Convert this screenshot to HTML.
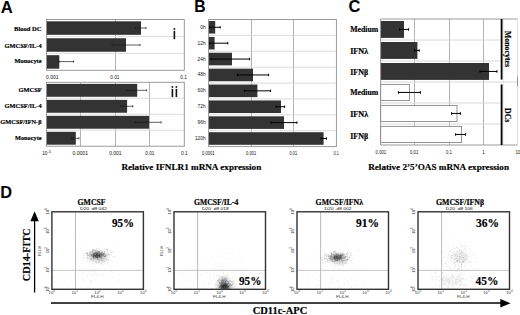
<!DOCTYPE html>
<html><head><meta charset="utf-8"><style>
html,body{margin:0;padding:0;background:#fff;}
body{width:520px;height:315px;overflow:hidden;font-family:"Liberation Sans",sans-serif;}
svg{display:block;}
</style></head><body>
<svg width="520" height="315" viewBox="0 0 520 315">
<rect width="520" height="315" fill="#fff"/>
<text x="0.7" y="12.5" font-family="'Liberation Sans', sans-serif" font-size="16.2" font-weight="bold" text-anchor="start" fill="#000" textLength="12" lengthAdjust="spacingAndGlyphs" >A</text>
<text x="194.3" y="12.4" font-family="'Liberation Sans', sans-serif" font-size="16.2" font-weight="bold" text-anchor="start" fill="#000" textLength="11.4" lengthAdjust="spacingAndGlyphs" >B</text>
<text x="348.6" y="12.4" font-family="'Liberation Sans', sans-serif" font-size="16.2" font-weight="bold" text-anchor="start" fill="#000" textLength="11.9" lengthAdjust="spacingAndGlyphs" >C</text>
<text x="0.2" y="198.2" font-family="'Liberation Sans', sans-serif" font-size="16.8" font-weight="bold" text-anchor="start" fill="#000" textLength="11.8" lengthAdjust="spacingAndGlyphs" >D</text>
<line x1="115.50" y1="19.50" x2="115.50" y2="70.30" stroke="#a4a4a4" stroke-width="0.85"/>
<line x1="46.50" y1="36.43" x2="184.30" y2="36.43" stroke="#d8d8d8" stroke-width="0.9"/>
<line x1="46.50" y1="53.37" x2="184.30" y2="53.37" stroke="#d8d8d8" stroke-width="0.9"/>
<rect x="46.50" y="21.30" width="94.50" height="13.53" fill="#333"/>
<rect x="46.50" y="38.23" width="79.50" height="13.53" fill="#333"/>
<rect x="46.50" y="55.17" width="12.80" height="13.53" fill="#333"/>
<line x1="135.00" y1="28.00" x2="146.00" y2="28.00" stroke="#1a1a1a" stroke-width="0.7"/>
<line x1="146.00" y1="26.90" x2="146.00" y2="29.10" stroke="#1a1a1a" stroke-width="0.7"/>
<line x1="135.00" y1="26.90" x2="135.00" y2="29.10" stroke="#1a1a1a" stroke-width="0.7"/>
<line x1="112.00" y1="45.00" x2="140.00" y2="45.00" stroke="#1a1a1a" stroke-width="0.7"/>
<line x1="140.00" y1="43.90" x2="140.00" y2="46.10" stroke="#1a1a1a" stroke-width="0.7"/>
<line x1="112.00" y1="43.90" x2="112.00" y2="46.10" stroke="#1a1a1a" stroke-width="0.7"/>
<line x1="59.00" y1="61.60" x2="73.50" y2="61.60" stroke="#1a1a1a" stroke-width="0.7"/>
<line x1="73.50" y1="60.50" x2="73.50" y2="62.70" stroke="#1a1a1a" stroke-width="0.7"/>
<line x1="59.00" y1="60.50" x2="59.00" y2="62.70" stroke="#1a1a1a" stroke-width="0.7"/>
<rect x="46.5" y="19.5" width="137.8" height="50.8" fill="none" stroke="#909090" stroke-width="0.9"/>
<text x="14" y="31" font-family="'Liberation Serif', serif" font-size="6.7" font-weight="bold" text-anchor="start" fill="#000" textLength="27.6" lengthAdjust="spacingAndGlyphs" stroke="#000" stroke-width="0.18" >Blood DC</text>
<text x="4.5" y="47.6" font-family="'Liberation Serif', serif" font-size="6.7" font-weight="bold" text-anchor="start" fill="#000" textLength="37.1" lengthAdjust="spacingAndGlyphs" stroke="#000" stroke-width="0.18" >GMCSF/IL-4</text>
<text x="14.5" y="62.6" font-family="'Liberation Serif', serif" font-size="6.7" font-weight="bold" text-anchor="start" fill="#000" textLength="27.1" lengthAdjust="spacingAndGlyphs" stroke="#000" stroke-width="0.18" >Monocyte</text>
<text x="46" y="79" font-family="'Liberation Sans', sans-serif" font-size="5.2" font-weight="normal" text-anchor="start" fill="#111" textLength="12.4" lengthAdjust="spacingAndGlyphs" >0.001</text>
<text x="110.2" y="79" font-family="'Liberation Sans', sans-serif" font-size="5.2" font-weight="normal" text-anchor="start" fill="#111" textLength="9.2" lengthAdjust="spacingAndGlyphs" >0.01</text>
<text x="180.3" y="79" font-family="'Liberation Sans', sans-serif" font-size="5.2" font-weight="normal" text-anchor="start" fill="#111" textLength="6.6" lengthAdjust="spacingAndGlyphs" >0.1</text>
<rect x="173.60" y="28.10" width="1.60" height="1.70" fill="#111"/>
<rect x="173.60" y="30.90" width="1.60" height="8.30" fill="#111"/>
<rect x="171.60" y="86.10" width="1.60" height="1.70" fill="#111"/>
<rect x="171.60" y="88.90" width="1.60" height="8.20" fill="#111"/>
<rect x="175.60" y="86.10" width="1.60" height="1.70" fill="#111"/>
<rect x="175.60" y="88.90" width="1.60" height="8.20" fill="#111"/>
<line x1="80.50" y1="82.30" x2="80.50" y2="146.20" stroke="#a4a4a4" stroke-width="0.85"/>
<line x1="115.50" y1="82.30" x2="115.50" y2="146.20" stroke="#a4a4a4" stroke-width="0.85"/>
<line x1="149.50" y1="82.30" x2="149.50" y2="146.20" stroke="#a4a4a4" stroke-width="0.85"/>
<line x1="46.50" y1="98.27" x2="184.30" y2="98.27" stroke="#d8d8d8" stroke-width="0.9"/>
<line x1="46.50" y1="114.25" x2="184.30" y2="114.25" stroke="#d8d8d8" stroke-width="0.9"/>
<line x1="46.50" y1="130.22" x2="184.30" y2="130.22" stroke="#d8d8d8" stroke-width="0.9"/>
<rect x="46.50" y="83.90" width="90.70" height="12.87" fill="#333"/>
<rect x="46.50" y="99.87" width="80.60" height="12.87" fill="#333"/>
<rect x="46.50" y="115.85" width="102.50" height="12.87" fill="#333"/>
<rect x="46.50" y="131.82" width="29.30" height="12.87" fill="#333"/>
<line x1="126.50" y1="90.30" x2="146.70" y2="90.30" stroke="#1a1a1a" stroke-width="0.7"/>
<line x1="146.70" y1="89.20" x2="146.70" y2="91.40" stroke="#1a1a1a" stroke-width="0.7"/>
<line x1="126.50" y1="89.20" x2="126.50" y2="91.40" stroke="#1a1a1a" stroke-width="0.7"/>
<line x1="120.80" y1="106.30" x2="132.90" y2="106.30" stroke="#1a1a1a" stroke-width="0.7"/>
<line x1="132.90" y1="105.20" x2="132.90" y2="107.40" stroke="#1a1a1a" stroke-width="0.7"/>
<line x1="120.80" y1="105.20" x2="120.80" y2="107.40" stroke="#1a1a1a" stroke-width="0.7"/>
<line x1="135.20" y1="122.30" x2="161.10" y2="122.30" stroke="#1a1a1a" stroke-width="0.7"/>
<line x1="161.10" y1="121.20" x2="161.10" y2="123.40" stroke="#1a1a1a" stroke-width="0.7"/>
<line x1="135.20" y1="121.20" x2="135.20" y2="123.40" stroke="#1a1a1a" stroke-width="0.7"/>
<line x1="71.70" y1="138.30" x2="79.00" y2="138.30" stroke="#1a1a1a" stroke-width="0.7"/>
<line x1="79.00" y1="137.20" x2="79.00" y2="139.40" stroke="#1a1a1a" stroke-width="0.7"/>
<line x1="71.70" y1="137.20" x2="71.70" y2="139.40" stroke="#1a1a1a" stroke-width="0.7"/>
<rect x="46.5" y="82.3" width="137.8" height="63.89999999999999" fill="none" stroke="#909090" stroke-width="0.9"/>
<text x="18.5" y="92.2" font-family="'Liberation Serif', serif" font-size="6.7" font-weight="bold" text-anchor="start" fill="#000" textLength="23.1" lengthAdjust="spacingAndGlyphs" stroke="#000" stroke-width="0.18" >GMCSF</text>
<text x="4.5" y="108.2" font-family="'Liberation Serif', serif" font-size="6.7" font-weight="bold" text-anchor="start" fill="#000" textLength="37.1" lengthAdjust="spacingAndGlyphs" stroke="#000" stroke-width="0.18" >GMCSF/IL-4</text>
<text x="0.3" y="124.4" font-family="'Liberation Serif', serif" font-size="6.7" font-weight="bold" text-anchor="start" fill="#000" textLength="41.3" lengthAdjust="spacingAndGlyphs" stroke="#000" stroke-width="0.18" >GMCSF/IFN-β</text>
<text x="15" y="140.2" font-family="'Liberation Serif', serif" font-size="6.7" font-weight="bold" text-anchor="start" fill="#000" textLength="26.6" lengthAdjust="spacingAndGlyphs" stroke="#000" stroke-width="0.18" >Monocyte</text>
<text x="42.2" y="155" font-family="'Liberation Sans', sans-serif" font-size="5.0" font-weight="normal" text-anchor="start" fill="#111" textLength="5.2" lengthAdjust="spacingAndGlyphs" >10</text>
<text x="47.4" y="152.6" font-family="'Liberation Sans', sans-serif" font-size="3.4" font-weight="normal" text-anchor="start" fill="#111" textLength="3.6" lengthAdjust="spacingAndGlyphs" >-5</text>
<text x="72.5" y="155" font-family="'Liberation Sans', sans-serif" font-size="5.2" font-weight="normal" text-anchor="start" fill="#111" textLength="15.5" lengthAdjust="spacingAndGlyphs" >0.0001</text>
<text x="109.2" y="155" font-family="'Liberation Sans', sans-serif" font-size="5.2" font-weight="normal" text-anchor="start" fill="#111" textLength="12.4" lengthAdjust="spacingAndGlyphs" >0.001</text>
<text x="145.3" y="155" font-family="'Liberation Sans', sans-serif" font-size="5.2" font-weight="normal" text-anchor="start" fill="#111" textLength="9.2" lengthAdjust="spacingAndGlyphs" >0.01</text>
<text x="181" y="155" font-family="'Liberation Sans', sans-serif" font-size="5.2" font-weight="normal" text-anchor="start" fill="#111" textLength="6.6" lengthAdjust="spacingAndGlyphs" >0.1</text>
<text x="121.4" y="169.9" font-family="'Liberation Serif', serif" font-size="9.2" font-weight="bold" text-anchor="start" fill="#000" textLength="139.9" lengthAdjust="spacingAndGlyphs" stroke="#000" stroke-width="0.18" >Relative IFNLR1 mRNA expression</text>
<line x1="251.50" y1="19.50" x2="251.50" y2="146.60" stroke="#a4a4a4" stroke-width="0.85"/>
<line x1="293.50" y1="19.50" x2="293.50" y2="146.60" stroke="#a4a4a4" stroke-width="0.85"/>
<line x1="208.60" y1="35.39" x2="336.40" y2="35.39" stroke="#d8d8d8" stroke-width="0.9"/>
<line x1="208.60" y1="51.27" x2="336.40" y2="51.27" stroke="#d8d8d8" stroke-width="0.9"/>
<line x1="208.60" y1="67.16" x2="336.40" y2="67.16" stroke="#d8d8d8" stroke-width="0.9"/>
<line x1="208.60" y1="83.05" x2="336.40" y2="83.05" stroke="#d8d8d8" stroke-width="0.9"/>
<line x1="208.60" y1="98.94" x2="336.40" y2="98.94" stroke="#d8d8d8" stroke-width="0.9"/>
<line x1="208.60" y1="114.82" x2="336.40" y2="114.82" stroke="#d8d8d8" stroke-width="0.9"/>
<line x1="208.60" y1="130.71" x2="336.40" y2="130.71" stroke="#d8d8d8" stroke-width="0.9"/>
<rect x="208.60" y="21.00" width="6.60" height="12.59" fill="#333"/>
<rect x="208.60" y="36.89" width="6.00" height="12.59" fill="#333"/>
<rect x="208.60" y="52.77" width="23.40" height="12.59" fill="#333"/>
<rect x="208.60" y="68.66" width="44.40" height="12.59" fill="#333"/>
<rect x="208.60" y="84.55" width="48.80" height="12.59" fill="#333"/>
<rect x="208.60" y="100.44" width="72.40" height="12.59" fill="#333"/>
<rect x="208.60" y="116.32" width="75.40" height="12.59" fill="#333"/>
<rect x="208.60" y="132.21" width="115.00" height="12.59" fill="#333"/>
<line x1="209.50" y1="27.29" x2="220.20" y2="27.29" stroke="#000" stroke-width="1.0"/>
<line x1="220.20" y1="26.09" x2="220.20" y2="28.49" stroke="#000" stroke-width="1.0"/>
<line x1="209.50" y1="26.09" x2="209.50" y2="28.49" stroke="#000" stroke-width="1.0"/>
<line x1="209.50" y1="43.18" x2="227.80" y2="43.18" stroke="#000" stroke-width="1.0"/>
<line x1="227.80" y1="41.98" x2="227.80" y2="44.38" stroke="#000" stroke-width="1.0"/>
<line x1="209.50" y1="41.98" x2="209.50" y2="44.38" stroke="#000" stroke-width="1.0"/>
<line x1="211.00" y1="59.07" x2="249.60" y2="59.07" stroke="#000" stroke-width="1.0"/>
<line x1="249.60" y1="57.87" x2="249.60" y2="60.27" stroke="#000" stroke-width="1.0"/>
<line x1="211.00" y1="57.87" x2="211.00" y2="60.27" stroke="#000" stroke-width="1.0"/>
<line x1="237.40" y1="74.96" x2="268.60" y2="74.96" stroke="#000" stroke-width="1.0"/>
<line x1="268.60" y1="73.76" x2="268.60" y2="76.16" stroke="#000" stroke-width="1.0"/>
<line x1="237.40" y1="73.76" x2="237.40" y2="76.16" stroke="#000" stroke-width="1.0"/>
<line x1="244.60" y1="90.84" x2="270.60" y2="90.84" stroke="#000" stroke-width="1.0"/>
<line x1="270.60" y1="89.64" x2="270.60" y2="92.04" stroke="#000" stroke-width="1.0"/>
<line x1="244.60" y1="89.64" x2="244.60" y2="92.04" stroke="#000" stroke-width="1.0"/>
<line x1="276.00" y1="106.73" x2="284.60" y2="106.73" stroke="#000" stroke-width="1.0"/>
<line x1="284.60" y1="105.53" x2="284.60" y2="107.93" stroke="#000" stroke-width="1.0"/>
<line x1="276.00" y1="105.53" x2="276.00" y2="107.93" stroke="#000" stroke-width="1.0"/>
<line x1="271.00" y1="122.62" x2="297.00" y2="122.62" stroke="#000" stroke-width="1.0"/>
<line x1="297.00" y1="121.42" x2="297.00" y2="123.82" stroke="#000" stroke-width="1.0"/>
<line x1="271.00" y1="121.42" x2="271.00" y2="123.82" stroke="#000" stroke-width="1.0"/>
<line x1="321.00" y1="138.51" x2="326.40" y2="138.51" stroke="#000" stroke-width="1.0"/>
<line x1="326.40" y1="137.31" x2="326.40" y2="139.71" stroke="#000" stroke-width="1.0"/>
<line x1="321.00" y1="137.31" x2="321.00" y2="139.71" stroke="#000" stroke-width="1.0"/>
<rect x="208.6" y="19.5" width="127.79999999999998" height="127.1" fill="none" stroke="#909090" stroke-width="0.9"/>
<text x="205.6" y="28.8" font-family="'Liberation Sans', sans-serif" font-size="4.8" font-weight="normal" text-anchor="end" fill="#111" >0h</text>
<text x="205.6" y="44.69" font-family="'Liberation Sans', sans-serif" font-size="4.8" font-weight="normal" text-anchor="end" fill="#111" >12h</text>
<text x="205.6" y="60.58" font-family="'Liberation Sans', sans-serif" font-size="4.8" font-weight="normal" text-anchor="end" fill="#111" >24h</text>
<text x="205.6" y="76.46" font-family="'Liberation Sans', sans-serif" font-size="4.8" font-weight="normal" text-anchor="end" fill="#111" >48h</text>
<text x="205.6" y="92.35" font-family="'Liberation Sans', sans-serif" font-size="4.8" font-weight="normal" text-anchor="end" fill="#111" >60h</text>
<text x="205.6" y="108.24" font-family="'Liberation Sans', sans-serif" font-size="4.8" font-weight="normal" text-anchor="end" fill="#111" >72h</text>
<text x="205.6" y="124.12" font-family="'Liberation Sans', sans-serif" font-size="4.8" font-weight="normal" text-anchor="end" fill="#111" >96h</text>
<text x="205.6" y="140.01" font-family="'Liberation Sans', sans-serif" font-size="4.8" font-weight="normal" text-anchor="end" fill="#111" >120h</text>
<text x="202" y="154.6" font-family="'Liberation Sans', sans-serif" font-size="4.6" font-weight="normal" text-anchor="start" fill="#111" textLength="12.6" lengthAdjust="spacingAndGlyphs" >0,0001</text>
<text x="246" y="154.6" font-family="'Liberation Sans', sans-serif" font-size="4.6" font-weight="normal" text-anchor="start" fill="#111" textLength="10.2" lengthAdjust="spacingAndGlyphs" >0,001</text>
<text x="289.6" y="154.6" font-family="'Liberation Sans', sans-serif" font-size="4.6" font-weight="normal" text-anchor="start" fill="#111" textLength="7.6" lengthAdjust="spacingAndGlyphs" >0,01</text>
<text x="333.8" y="154.6" font-family="'Liberation Sans', sans-serif" font-size="4.6" font-weight="normal" text-anchor="start" fill="#111" textLength="5.0" lengthAdjust="spacingAndGlyphs" >0,1</text>
<line x1="414.50" y1="19.00" x2="414.50" y2="145.00" stroke="#a4a4a4" stroke-width="0.85"/>
<line x1="449.50" y1="19.00" x2="449.50" y2="145.00" stroke="#a4a4a4" stroke-width="0.85"/>
<line x1="483.50" y1="19.00" x2="483.50" y2="145.00" stroke="#a4a4a4" stroke-width="0.85"/>
<line x1="503.60" y1="19.00" x2="503.60" y2="145.00" stroke="#e4e4e4" stroke-width="0.7"/>
<line x1="380.60" y1="40.00" x2="500.60" y2="40.00" stroke="#d8d8d8" stroke-width="1.0"/>
<line x1="380.60" y1="61.00" x2="500.60" y2="61.00" stroke="#d8d8d8" stroke-width="1.0"/>
<line x1="380.60" y1="82.00" x2="517.50" y2="82.00" stroke="#d8d8d8" stroke-width="1.0"/>
<line x1="380.60" y1="103.00" x2="500.60" y2="103.00" stroke="#d8d8d8" stroke-width="1.0"/>
<line x1="380.60" y1="124.00" x2="500.60" y2="124.00" stroke="#d8d8d8" stroke-width="1.0"/>
<rect x="380.60" y="21.00" width="23.40" height="16.90" fill="#333"/>
<rect x="380.60" y="42.00" width="36.80" height="16.90" fill="#333"/>
<rect x="380.60" y="63.00" width="108.40" height="16.90" fill="#333"/>
<rect x="380.60" y="84.40" width="28.80" height="16.10" fill="#fff" stroke="#8a8a8a" stroke-width="0.9"/>
<rect x="380.60" y="105.40" width="76.40" height="16.10" fill="#fff" stroke="#8a8a8a" stroke-width="0.9"/>
<rect x="380.60" y="126.40" width="81.00" height="16.10" fill="#fff" stroke="#8a8a8a" stroke-width="0.9"/>
<line x1="399.60" y1="29.45" x2="408.60" y2="29.45" stroke="#000" stroke-width="1.0"/>
<line x1="408.60" y1="28.15" x2="408.60" y2="30.75" stroke="#000" stroke-width="1.0"/>
<line x1="399.60" y1="28.15" x2="399.60" y2="30.75" stroke="#000" stroke-width="1.0"/>
<line x1="414.50" y1="50.45" x2="419.20" y2="50.45" stroke="#000" stroke-width="1.0"/>
<line x1="419.20" y1="49.15" x2="419.20" y2="51.75" stroke="#000" stroke-width="1.0"/>
<line x1="414.50" y1="49.15" x2="414.50" y2="51.75" stroke="#000" stroke-width="1.0"/>
<line x1="480.00" y1="71.45" x2="497.00" y2="71.45" stroke="#000" stroke-width="1.0"/>
<line x1="497.00" y1="70.15" x2="497.00" y2="72.75" stroke="#000" stroke-width="1.0"/>
<line x1="480.00" y1="70.15" x2="480.00" y2="72.75" stroke="#000" stroke-width="1.0"/>
<line x1="398.40" y1="92.45" x2="420.40" y2="92.45" stroke="#000" stroke-width="1.0"/>
<line x1="420.40" y1="91.15" x2="420.40" y2="93.75" stroke="#000" stroke-width="1.0"/>
<line x1="398.40" y1="91.15" x2="398.40" y2="93.75" stroke="#000" stroke-width="1.0"/>
<line x1="451.60" y1="113.45" x2="460.40" y2="113.45" stroke="#000" stroke-width="1.0"/>
<line x1="460.40" y1="112.15" x2="460.40" y2="114.75" stroke="#000" stroke-width="1.0"/>
<line x1="451.60" y1="112.15" x2="451.60" y2="114.75" stroke="#000" stroke-width="1.0"/>
<line x1="455.60" y1="134.45" x2="465.60" y2="134.45" stroke="#000" stroke-width="1.0"/>
<line x1="465.60" y1="133.15" x2="465.60" y2="135.75" stroke="#000" stroke-width="1.0"/>
<line x1="455.60" y1="133.15" x2="455.60" y2="135.75" stroke="#000" stroke-width="1.0"/>
<path d="M517.5,19 H380.6 V145 H517.5" fill="none" stroke="#909090" stroke-width="0.9"/>
<line x1="517.50" y1="19.00" x2="517.50" y2="145.00" stroke="#d0d0d0" stroke-width="0.7"/>
<line x1="517.50" y1="76.50" x2="517.50" y2="86.50" stroke="#888" stroke-width="0.8"/>
<line x1="501.60" y1="19.00" x2="501.60" y2="79.60" stroke="#000" stroke-width="1.8"/>
<line x1="501.60" y1="84.40" x2="501.60" y2="145.00" stroke="#000" stroke-width="1.8"/>
<text x="0" y="0" font-family="'Liberation Serif', serif" font-size="7.3" font-weight="bold" text-anchor="start" fill="#000" textLength="36" lengthAdjust="spacingAndGlyphs" stroke="#000" stroke-width="0.18" transform="translate(505.2,31) rotate(90)">Monocytes</text>
<text x="0" y="0" font-family="'Liberation Serif', serif" font-size="7.3" font-weight="bold" text-anchor="start" fill="#000" textLength="14.4" lengthAdjust="spacingAndGlyphs" stroke="#000" stroke-width="0.18" transform="translate(505.2,108) rotate(90)">DCs</text>
<text x="350.2" y="31.8" font-family="'Liberation Serif', serif" font-size="7.6" font-weight="bold" text-anchor="start" fill="#000" textLength="28" lengthAdjust="spacingAndGlyphs" stroke="#000" stroke-width="0.18" >Medium</text>
<text x="350.2" y="53.9" font-family="'Liberation Serif', serif" font-size="7.6" font-weight="bold" text-anchor="start" fill="#000" textLength="18" lengthAdjust="spacingAndGlyphs" stroke="#000" stroke-width="0.18" >IFNλ</text>
<text x="350.2" y="75.3" font-family="'Liberation Serif', serif" font-size="7.6" font-weight="bold" text-anchor="start" fill="#000" textLength="18" lengthAdjust="spacingAndGlyphs" stroke="#000" stroke-width="0.18" >IFNβ</text>
<text x="350.2" y="94.6" font-family="'Liberation Serif', serif" font-size="7.6" font-weight="bold" text-anchor="start" fill="#000" textLength="28" lengthAdjust="spacingAndGlyphs" stroke="#000" stroke-width="0.18" >Medium</text>
<text x="350.2" y="116.6" font-family="'Liberation Serif', serif" font-size="7.6" font-weight="bold" text-anchor="start" fill="#000" textLength="18" lengthAdjust="spacingAndGlyphs" stroke="#000" stroke-width="0.18" >IFNλ</text>
<text x="350.2" y="138.6" font-family="'Liberation Serif', serif" font-size="7.6" font-weight="bold" text-anchor="start" fill="#000" textLength="18" lengthAdjust="spacingAndGlyphs" stroke="#000" stroke-width="0.18" >IFNβ</text>
<text x="375.6" y="153.6" font-family="'Liberation Sans', sans-serif" font-size="4.6" font-weight="normal" text-anchor="start" fill="#111" textLength="10.6" lengthAdjust="spacingAndGlyphs" >0,001</text>
<text x="410" y="153.6" font-family="'Liberation Sans', sans-serif" font-size="4.6" font-weight="normal" text-anchor="start" fill="#111" textLength="8.4" lengthAdjust="spacingAndGlyphs" >0,01</text>
<text x="446" y="153.6" font-family="'Liberation Sans', sans-serif" font-size="4.6" font-weight="normal" text-anchor="start" fill="#111" textLength="6" lengthAdjust="spacingAndGlyphs" >0,1</text>
<text x="482.2" y="153.6" font-family="'Liberation Sans', sans-serif" font-size="4.6" font-weight="normal" text-anchor="start" fill="#111" >1</text>
<text x="515.4" y="153.6" font-family="'Liberation Sans', sans-serif" font-size="4.6" font-weight="normal" text-anchor="start" fill="#111" >10</text>
<text x="368.2" y="169.9" font-family="'Liberation Serif', serif" font-size="9.2" font-weight="bold" text-anchor="start" fill="#000" textLength="140.8" lengthAdjust="spacingAndGlyphs" stroke="#000" stroke-width="0.18" >Relative 2’5’OAS mRNA expression</text>
<defs><filter id="bl" x="-20%" y="-20%" width="140%" height="140%"><feGaussianBlur stdDeviation="0.45"/></filter><filter id="bl2" x="-50%" y="-50%" width="200%" height="200%"><feGaussianBlur stdDeviation="1.2"/></filter></defs>
<clipPath id="cp0"><rect x="51.9" y="211.8" width="91.5" height="77.5"/></clipPath>
<g clip-path="url(#cp0)">
<g fill="#000" fill-opacity="0.09" filter="url(#bl)"><circle cx="95.0" cy="266.6" r="0.45"/><circle cx="91.4" cy="252.3" r="0.45"/><circle cx="89.1" cy="251.1" r="0.45"/><circle cx="95.8" cy="279.1" r="0.45"/><circle cx="88.6" cy="255.6" r="0.45"/><circle cx="101.4" cy="267.3" r="0.45"/><circle cx="96.4" cy="251.8" r="0.45"/><circle cx="94.6" cy="271.3" r="0.45"/><circle cx="77.5" cy="257.5" r="0.45"/><circle cx="70.3" cy="247.5" r="0.45"/><circle cx="71.1" cy="260.2" r="0.45"/><circle cx="78.5" cy="266.3" r="0.45"/><circle cx="97.0" cy="260.8" r="0.45"/><circle cx="62.3" cy="256.5" r="0.45"/><circle cx="94.4" cy="264.4" r="0.45"/><circle cx="75.1" cy="257.3" r="0.45"/><circle cx="82.3" cy="253.3" r="0.45"/><circle cx="108.8" cy="253.3" r="0.45"/><circle cx="94.6" cy="273.6" r="0.45"/><circle cx="87.4" cy="261.7" r="0.45"/><circle cx="96.4" cy="263.8" r="0.45"/><circle cx="79.1" cy="263.9" r="0.45"/><circle cx="112.7" cy="244.4" r="0.45"/><circle cx="106.2" cy="264.4" r="0.45"/><circle cx="86.7" cy="287.0" r="0.45"/><circle cx="104.9" cy="248.6" r="0.45"/><circle cx="96.0" cy="269.9" r="0.45"/><circle cx="92.5" cy="271.2" r="0.45"/><circle cx="94.1" cy="271.0" r="0.45"/><circle cx="113.7" cy="254.9" r="0.45"/><circle cx="97.6" cy="257.4" r="0.45"/><circle cx="96.7" cy="248.8" r="0.45"/><circle cx="87.5" cy="260.6" r="0.45"/><circle cx="106.7" cy="276.7" r="0.45"/><circle cx="77.8" cy="253.5" r="0.45"/><circle cx="103.4" cy="239.1" r="0.45"/><circle cx="89.0" cy="261.8" r="0.45"/><circle cx="111.3" cy="271.3" r="0.45"/><circle cx="90.7" cy="258.6" r="0.45"/><circle cx="91.7" cy="281.3" r="0.45"/><circle cx="89.4" cy="259.4" r="0.45"/><circle cx="99.6" cy="261.6" r="0.45"/><circle cx="92.4" cy="249.6" r="0.45"/><circle cx="94.9" cy="257.7" r="0.45"/><circle cx="110.2" cy="270.8" r="0.45"/><circle cx="94.7" cy="271.0" r="0.45"/><circle cx="90.6" cy="275.6" r="0.45"/><circle cx="94.9" cy="270.0" r="0.45"/><circle cx="78.2" cy="267.2" r="0.45"/><circle cx="73.1" cy="238.6" r="0.45"/><circle cx="91.0" cy="252.2" r="0.45"/><circle cx="84.2" cy="255.5" r="0.45"/><circle cx="97.7" cy="268.9" r="0.45"/><circle cx="92.7" cy="260.5" r="0.45"/><circle cx="104.1" cy="269.2" r="0.45"/><circle cx="81.6" cy="262.0" r="0.45"/><circle cx="95.5" cy="250.3" r="0.45"/><circle cx="98.4" cy="252.7" r="0.45"/><circle cx="107.6" cy="265.3" r="0.45"/><circle cx="96.2" cy="255.9" r="0.45"/><circle cx="93.5" cy="239.0" r="0.45"/><circle cx="80.3" cy="267.4" r="0.45"/><circle cx="67.3" cy="273.2" r="0.45"/><circle cx="72.3" cy="272.1" r="0.45"/><circle cx="84.0" cy="272.3" r="0.45"/><circle cx="96.7" cy="244.6" r="0.45"/><circle cx="111.2" cy="280.3" r="0.45"/><circle cx="94.1" cy="259.7" r="0.45"/><circle cx="92.9" cy="251.3" r="0.45"/><circle cx="109.3" cy="256.5" r="0.45"/><circle cx="94.3" cy="253.5" r="0.45"/><circle cx="86.9" cy="247.7" r="0.45"/><circle cx="111.3" cy="261.2" r="0.45"/><circle cx="107.6" cy="263.2" r="0.45"/><circle cx="86.0" cy="259.1" r="0.45"/><circle cx="87.7" cy="263.1" r="0.45"/><circle cx="90.1" cy="259.4" r="0.45"/><circle cx="77.1" cy="253.3" r="0.45"/><circle cx="116.5" cy="254.9" r="0.45"/><circle cx="81.3" cy="267.0" r="0.45"/><circle cx="113.3" cy="245.6" r="0.45"/><circle cx="92.3" cy="255.4" r="0.45"/><circle cx="72.1" cy="271.8" r="0.45"/><circle cx="94.7" cy="263.9" r="0.45"/><circle cx="85.2" cy="268.5" r="0.45"/><circle cx="88.0" cy="261.3" r="0.45"/><circle cx="80.6" cy="248.4" r="0.45"/><circle cx="112.4" cy="256.9" r="0.45"/><circle cx="98.8" cy="262.6" r="0.45"/><circle cx="89.3" cy="256.9" r="0.45"/><circle cx="103.2" cy="259.4" r="0.45"/><circle cx="93.0" cy="263.3" r="0.45"/><circle cx="110.3" cy="271.2" r="0.45"/><circle cx="100.0" cy="256.2" r="0.45"/><circle cx="77.0" cy="274.4" r="0.45"/><circle cx="107.6" cy="261.3" r="0.45"/><circle cx="102.0" cy="272.4" r="0.45"/><circle cx="105.8" cy="274.1" r="0.45"/><circle cx="89.1" cy="281.2" r="0.45"/><circle cx="78.8" cy="273.3" r="0.45"/><circle cx="101.4" cy="273.5" r="0.45"/><circle cx="119.4" cy="280.8" r="0.45"/><circle cx="80.1" cy="242.7" r="0.45"/><circle cx="105.6" cy="250.8" r="0.45"/><circle cx="94.8" cy="273.1" r="0.45"/><circle cx="73.6" cy="237.7" r="0.45"/><circle cx="98.4" cy="263.5" r="0.45"/><circle cx="91.8" cy="263.5" r="0.45"/><circle cx="83.8" cy="244.8" r="0.45"/><circle cx="92.8" cy="251.3" r="0.45"/><circle cx="73.6" cy="269.1" r="0.45"/><circle cx="94.2" cy="267.9" r="0.45"/><circle cx="82.1" cy="255.1" r="0.45"/><circle cx="82.0" cy="252.4" r="0.45"/><circle cx="97.5" cy="253.6" r="0.45"/><circle cx="99.6" cy="267.1" r="0.45"/><circle cx="121.3" cy="246.3" r="0.45"/><circle cx="106.5" cy="261.9" r="0.45"/><circle cx="94.8" cy="245.6" r="0.45"/><circle cx="89.0" cy="271.9" r="0.45"/><circle cx="93.9" cy="264.0" r="0.45"/><circle cx="91.2" cy="276.9" r="0.45"/><circle cx="94.7" cy="236.6" r="0.45"/><circle cx="86.0" cy="239.4" r="0.45"/><circle cx="112.3" cy="263.6" r="0.45"/><circle cx="79.8" cy="251.7" r="0.45"/><circle cx="109.7" cy="264.9" r="0.45"/><circle cx="95.6" cy="262.4" r="0.45"/><circle cx="95.5" cy="272.7" r="0.45"/><circle cx="102.2" cy="265.6" r="0.45"/><circle cx="81.4" cy="269.1" r="0.45"/><circle cx="86.1" cy="276.1" r="0.45"/><circle cx="78.5" cy="261.3" r="0.45"/><circle cx="94.9" cy="247.1" r="0.45"/><circle cx="117.4" cy="280.5" r="0.45"/><circle cx="89.0" cy="272.3" r="0.45"/><circle cx="99.9" cy="231.6" r="0.45"/><circle cx="98.3" cy="262.3" r="0.45"/><circle cx="96.1" cy="250.1" r="0.45"/><circle cx="91.5" cy="260.9" r="0.45"/><circle cx="110.4" cy="267.0" r="0.45"/><circle cx="94.9" cy="281.3" r="0.45"/><circle cx="87.8" cy="258.3" r="0.45"/><circle cx="71.4" cy="281.8" r="0.45"/><circle cx="107.5" cy="274.0" r="0.45"/><circle cx="103.7" cy="264.3" r="0.45"/><circle cx="97.8" cy="260.0" r="0.45"/><circle cx="92.4" cy="263.7" r="0.45"/><circle cx="114.7" cy="269.7" r="0.45"/><circle cx="94.2" cy="256.0" r="0.45"/><circle cx="86.7" cy="282.2" r="0.45"/><circle cx="101.6" cy="263.8" r="0.45"/><circle cx="90.5" cy="249.7" r="0.45"/><circle cx="94.1" cy="273.5" r="0.45"/><circle cx="89.9" cy="260.3" r="0.45"/><circle cx="92.1" cy="264.3" r="0.45"/><circle cx="74.3" cy="260.2" r="0.45"/><circle cx="83.9" cy="273.6" r="0.45"/></g>
<g fill="#000" fill-opacity="0.09" filter="url(#bl)"><circle cx="75.7" cy="284.5" r="0.45"/><circle cx="112.4" cy="279.1" r="0.45"/><circle cx="78.4" cy="282.1" r="0.45"/><circle cx="88.0" cy="275.0" r="0.45"/><circle cx="83.9" cy="279.8" r="0.45"/><circle cx="71.3" cy="282.9" r="0.45"/><circle cx="68.0" cy="274.4" r="0.45"/><circle cx="108.5" cy="275.6" r="0.45"/><circle cx="92.1" cy="284.3" r="0.45"/><circle cx="119.2" cy="279.8" r="0.45"/><circle cx="78.5" cy="272.9" r="0.45"/><circle cx="103.4" cy="275.3" r="0.45"/><circle cx="74.3" cy="278.0" r="0.45"/><circle cx="92.7" cy="279.8" r="0.45"/><circle cx="91.4" cy="282.8" r="0.45"/><circle cx="83.2" cy="280.8" r="0.45"/><circle cx="91.3" cy="280.5" r="0.45"/><circle cx="97.5" cy="281.3" r="0.45"/><circle cx="61.0" cy="283.3" r="0.45"/><circle cx="56.9" cy="272.5" r="0.45"/><circle cx="101.7" cy="285.2" r="0.45"/><circle cx="85.6" cy="270.7" r="0.45"/><circle cx="82.1" cy="276.9" r="0.45"/><circle cx="91.5" cy="276.3" r="0.45"/><circle cx="69.3" cy="280.7" r="0.45"/><circle cx="85.2" cy="274.1" r="0.45"/><circle cx="89.9" cy="274.1" r="0.45"/><circle cx="105.8" cy="287.4" r="0.45"/><circle cx="105.4" cy="278.2" r="0.45"/><circle cx="96.2" cy="280.2" r="0.45"/><circle cx="81.8" cy="279.0" r="0.45"/><circle cx="67.2" cy="272.3" r="0.45"/><circle cx="100.7" cy="279.9" r="0.45"/><circle cx="91.5" cy="287.0" r="0.45"/><circle cx="60.3" cy="276.3" r="0.45"/><circle cx="90.8" cy="283.4" r="0.45"/><circle cx="82.0" cy="287.2" r="0.45"/><circle cx="91.4" cy="273.7" r="0.45"/><circle cx="73.1" cy="285.8" r="0.45"/><circle cx="95.4" cy="269.6" r="0.45"/><circle cx="109.6" cy="284.6" r="0.45"/><circle cx="109.5" cy="278.7" r="0.45"/><circle cx="83.3" cy="274.2" r="0.45"/><circle cx="128.6" cy="279.9" r="0.45"/><circle cx="113.4" cy="277.1" r="0.45"/><circle cx="90.6" cy="271.0" r="0.45"/><circle cx="81.9" cy="286.9" r="0.45"/><circle cx="68.0" cy="287.4" r="0.45"/><circle cx="93.4" cy="274.7" r="0.45"/><circle cx="80.0" cy="278.2" r="0.45"/><circle cx="87.2" cy="277.8" r="0.45"/><circle cx="74.8" cy="279.2" r="0.45"/><circle cx="71.6" cy="273.3" r="0.45"/><circle cx="87.2" cy="286.3" r="0.45"/><circle cx="63.5" cy="281.0" r="0.45"/><circle cx="77.6" cy="275.1" r="0.45"/><circle cx="101.7" cy="277.9" r="0.45"/><circle cx="112.0" cy="276.3" r="0.45"/><circle cx="94.2" cy="279.6" r="0.45"/><circle cx="75.9" cy="284.5" r="0.45"/><circle cx="85.5" cy="284.6" r="0.45"/><circle cx="87.2" cy="274.5" r="0.45"/><circle cx="86.4" cy="281.3" r="0.45"/><circle cx="103.3" cy="275.6" r="0.45"/><circle cx="87.4" cy="270.7" r="0.45"/><circle cx="98.4" cy="274.5" r="0.45"/><circle cx="59.1" cy="280.6" r="0.45"/><circle cx="105.7" cy="271.9" r="0.45"/><circle cx="70.6" cy="276.5" r="0.45"/><circle cx="69.9" cy="283.3" r="0.45"/><circle cx="75.1" cy="276.7" r="0.45"/><circle cx="97.3" cy="276.5" r="0.45"/><circle cx="94.9" cy="275.2" r="0.45"/><circle cx="68.6" cy="270.0" r="0.45"/><circle cx="117.8" cy="279.1" r="0.45"/><circle cx="91.9" cy="280.8" r="0.45"/><circle cx="90.6" cy="281.3" r="0.45"/><circle cx="118.5" cy="274.8" r="0.45"/><circle cx="63.1" cy="274.9" r="0.45"/><circle cx="66.6" cy="285.5" r="0.45"/><circle cx="101.1" cy="275.2" r="0.45"/><circle cx="65.8" cy="278.9" r="0.45"/><circle cx="110.3" cy="264.1" r="0.45"/><circle cx="96.4" cy="274.5" r="0.45"/><circle cx="104.6" cy="274.5" r="0.45"/></g>
<ellipse cx="98" cy="257" rx="10" ry="6" fill="#000" fill-opacity="0.1" filter="url(#bl2)" transform="rotate(20,98,257)"/>
<g fill="#000" fill-opacity="0.14" filter="url(#bl)"><circle cx="95.8" cy="251.6" r="0.55"/><circle cx="91.6" cy="259.2" r="0.55"/><circle cx="102.4" cy="254.1" r="0.55"/><circle cx="92.3" cy="250.7" r="0.55"/><circle cx="95.1" cy="255.4" r="0.55"/><circle cx="97.0" cy="255.2" r="0.55"/><circle cx="90.8" cy="255.5" r="0.55"/><circle cx="97.3" cy="258.7" r="0.55"/><circle cx="108.7" cy="254.6" r="0.55"/><circle cx="92.9" cy="255.4" r="0.55"/><circle cx="93.9" cy="253.6" r="0.55"/><circle cx="97.1" cy="252.7" r="0.55"/><circle cx="101.1" cy="255.0" r="0.55"/><circle cx="99.0" cy="254.9" r="0.55"/><circle cx="93.1" cy="253.1" r="0.55"/><circle cx="96.1" cy="254.0" r="0.55"/><circle cx="98.9" cy="255.3" r="0.55"/><circle cx="89.3" cy="255.9" r="0.55"/><circle cx="89.4" cy="254.2" r="0.55"/><circle cx="95.7" cy="250.1" r="0.55"/><circle cx="98.0" cy="255.8" r="0.55"/><circle cx="96.6" cy="254.3" r="0.55"/><circle cx="95.3" cy="253.0" r="0.55"/><circle cx="95.9" cy="254.0" r="0.55"/><circle cx="98.1" cy="252.3" r="0.55"/><circle cx="98.9" cy="255.7" r="0.55"/><circle cx="96.7" cy="254.3" r="0.55"/><circle cx="100.8" cy="251.0" r="0.55"/><circle cx="100.3" cy="255.9" r="0.55"/><circle cx="99.2" cy="256.3" r="0.55"/><circle cx="93.6" cy="254.9" r="0.55"/><circle cx="101.3" cy="256.3" r="0.55"/><circle cx="98.7" cy="251.4" r="0.55"/><circle cx="100.7" cy="258.3" r="0.55"/><circle cx="103.6" cy="255.7" r="0.55"/><circle cx="88.2" cy="258.2" r="0.55"/><circle cx="96.6" cy="248.9" r="0.55"/><circle cx="99.8" cy="251.4" r="0.55"/><circle cx="89.7" cy="254.1" r="0.55"/><circle cx="105.1" cy="254.1" r="0.55"/><circle cx="99.1" cy="259.9" r="0.55"/><circle cx="107.1" cy="254.7" r="0.55"/><circle cx="96.1" cy="252.2" r="0.55"/><circle cx="93.3" cy="256.7" r="0.55"/><circle cx="99.9" cy="255.6" r="0.55"/><circle cx="103.5" cy="253.1" r="0.55"/><circle cx="97.2" cy="257.3" r="0.55"/><circle cx="101.0" cy="258.0" r="0.55"/><circle cx="99.9" cy="254.5" r="0.55"/><circle cx="99.7" cy="252.7" r="0.55"/><circle cx="87.7" cy="257.3" r="0.55"/><circle cx="97.2" cy="256.2" r="0.55"/><circle cx="87.3" cy="254.9" r="0.55"/><circle cx="93.9" cy="253.3" r="0.55"/><circle cx="84.0" cy="255.1" r="0.55"/><circle cx="102.9" cy="256.2" r="0.55"/><circle cx="93.9" cy="255.5" r="0.55"/><circle cx="102.0" cy="248.1" r="0.55"/><circle cx="96.8" cy="256.8" r="0.55"/><circle cx="101.6" cy="259.6" r="0.55"/><circle cx="104.3" cy="255.9" r="0.55"/><circle cx="99.3" cy="257.4" r="0.55"/><circle cx="94.3" cy="255.4" r="0.55"/><circle cx="102.9" cy="260.2" r="0.55"/><circle cx="96.5" cy="255.3" r="0.55"/><circle cx="98.7" cy="258.8" r="0.55"/><circle cx="97.3" cy="259.2" r="0.55"/><circle cx="91.7" cy="255.2" r="0.55"/><circle cx="96.3" cy="257.5" r="0.55"/><circle cx="103.8" cy="251.2" r="0.55"/><circle cx="92.0" cy="256.5" r="0.55"/><circle cx="93.5" cy="251.6" r="0.55"/><circle cx="103.7" cy="256.4" r="0.55"/><circle cx="100.5" cy="254.0" r="0.55"/><circle cx="103.7" cy="254.5" r="0.55"/><circle cx="104.1" cy="252.8" r="0.55"/><circle cx="92.4" cy="256.2" r="0.55"/><circle cx="93.3" cy="257.3" r="0.55"/><circle cx="99.1" cy="252.9" r="0.55"/><circle cx="97.9" cy="254.5" r="0.55"/><circle cx="103.0" cy="253.5" r="0.55"/><circle cx="94.9" cy="258.6" r="0.55"/><circle cx="110.9" cy="260.0" r="0.55"/><circle cx="97.9" cy="255.9" r="0.55"/><circle cx="106.7" cy="254.7" r="0.55"/><circle cx="91.6" cy="256.0" r="0.55"/><circle cx="100.2" cy="253.1" r="0.55"/><circle cx="87.6" cy="252.1" r="0.55"/><circle cx="101.5" cy="253.3" r="0.55"/><circle cx="96.7" cy="256.0" r="0.55"/><circle cx="101.2" cy="254.4" r="0.55"/><circle cx="100.5" cy="253.0" r="0.55"/><circle cx="95.3" cy="252.8" r="0.55"/><circle cx="104.3" cy="255.0" r="0.55"/><circle cx="93.1" cy="254.7" r="0.55"/><circle cx="96.2" cy="257.3" r="0.55"/><circle cx="87.9" cy="253.1" r="0.55"/><circle cx="95.2" cy="262.0" r="0.55"/><circle cx="103.2" cy="254.9" r="0.55"/><circle cx="101.8" cy="260.5" r="0.55"/><circle cx="96.1" cy="254.5" r="0.55"/><circle cx="104.8" cy="256.4" r="0.55"/><circle cx="101.5" cy="253.9" r="0.55"/><circle cx="109.0" cy="259.3" r="0.55"/><circle cx="100.9" cy="257.0" r="0.55"/><circle cx="85.3" cy="257.6" r="0.55"/><circle cx="96.3" cy="256.6" r="0.55"/><circle cx="101.6" cy="254.3" r="0.55"/><circle cx="87.4" cy="256.8" r="0.55"/><circle cx="93.1" cy="254.7" r="0.55"/><circle cx="93.9" cy="254.7" r="0.55"/><circle cx="83.6" cy="259.1" r="0.55"/><circle cx="99.0" cy="258.2" r="0.55"/><circle cx="109.4" cy="254.9" r="0.55"/><circle cx="86.7" cy="253.6" r="0.55"/><circle cx="90.3" cy="254.4" r="0.55"/><circle cx="98.0" cy="250.2" r="0.55"/><circle cx="99.6" cy="251.4" r="0.55"/><circle cx="99.3" cy="255.0" r="0.55"/><circle cx="95.6" cy="255.3" r="0.55"/><circle cx="94.3" cy="254.0" r="0.55"/><circle cx="87.4" cy="255.8" r="0.55"/><circle cx="108.6" cy="260.0" r="0.55"/><circle cx="105.4" cy="256.9" r="0.55"/><circle cx="93.4" cy="259.3" r="0.55"/><circle cx="97.2" cy="255.2" r="0.55"/><circle cx="95.8" cy="255.7" r="0.55"/><circle cx="94.9" cy="255.3" r="0.55"/><circle cx="91.0" cy="254.7" r="0.55"/><circle cx="111.2" cy="254.6" r="0.55"/><circle cx="96.1" cy="256.8" r="0.55"/><circle cx="101.7" cy="252.3" r="0.55"/><circle cx="96.3" cy="257.8" r="0.55"/><circle cx="99.1" cy="255.6" r="0.55"/><circle cx="106.8" cy="253.2" r="0.55"/><circle cx="98.0" cy="254.0" r="0.55"/><circle cx="106.4" cy="250.0" r="0.55"/><circle cx="93.5" cy="254.2" r="0.55"/><circle cx="101.5" cy="256.8" r="0.55"/><circle cx="105.9" cy="251.0" r="0.55"/><circle cx="102.0" cy="254.4" r="0.55"/><circle cx="93.5" cy="257.0" r="0.55"/><circle cx="92.0" cy="250.3" r="0.55"/><circle cx="95.3" cy="251.6" r="0.55"/><circle cx="93.6" cy="256.5" r="0.55"/><circle cx="99.4" cy="259.4" r="0.55"/><circle cx="96.3" cy="251.5" r="0.55"/><circle cx="93.0" cy="253.2" r="0.55"/><circle cx="90.2" cy="256.8" r="0.55"/><circle cx="93.6" cy="250.5" r="0.55"/><circle cx="101.7" cy="254.9" r="0.55"/><circle cx="99.6" cy="255.6" r="0.55"/><circle cx="101.3" cy="255.3" r="0.55"/><circle cx="104.9" cy="256.2" r="0.55"/><circle cx="99.9" cy="256.4" r="0.55"/><circle cx="88.8" cy="255.4" r="0.55"/><circle cx="95.9" cy="256.0" r="0.55"/><circle cx="89.3" cy="260.0" r="0.55"/><circle cx="98.1" cy="252.2" r="0.55"/><circle cx="87.2" cy="255.1" r="0.55"/><circle cx="97.0" cy="253.6" r="0.55"/><circle cx="98.1" cy="253.7" r="0.55"/><circle cx="100.8" cy="253.4" r="0.55"/><circle cx="97.3" cy="257.9" r="0.55"/><circle cx="112.9" cy="252.1" r="0.55"/><circle cx="94.7" cy="253.3" r="0.55"/><circle cx="102.2" cy="252.2" r="0.55"/><circle cx="94.6" cy="255.4" r="0.55"/><circle cx="91.6" cy="253.2" r="0.55"/><circle cx="94.6" cy="250.1" r="0.55"/><circle cx="88.8" cy="254.7" r="0.55"/><circle cx="98.4" cy="254.9" r="0.55"/><circle cx="86.9" cy="254.7" r="0.55"/><circle cx="102.3" cy="256.6" r="0.55"/><circle cx="97.0" cy="253.1" r="0.55"/><circle cx="101.3" cy="253.7" r="0.55"/><circle cx="90.5" cy="253.6" r="0.55"/><circle cx="106.2" cy="255.6" r="0.55"/><circle cx="104.5" cy="253.9" r="0.55"/><circle cx="103.1" cy="253.6" r="0.55"/><circle cx="96.6" cy="261.9" r="0.55"/><circle cx="102.1" cy="253.9" r="0.55"/><circle cx="97.0" cy="256.3" r="0.55"/><circle cx="104.8" cy="253.8" r="0.55"/><circle cx="87.1" cy="255.1" r="0.55"/><circle cx="97.6" cy="255.7" r="0.55"/><circle cx="105.4" cy="255.9" r="0.55"/><circle cx="102.4" cy="252.3" r="0.55"/><circle cx="102.7" cy="260.6" r="0.55"/><circle cx="102.1" cy="255.9" r="0.55"/><circle cx="98.4" cy="260.0" r="0.55"/><circle cx="91.9" cy="255.4" r="0.55"/><circle cx="100.3" cy="257.2" r="0.55"/><circle cx="94.9" cy="256.3" r="0.55"/><circle cx="95.8" cy="255.8" r="0.55"/><circle cx="96.7" cy="252.5" r="0.55"/><circle cx="97.4" cy="257.7" r="0.55"/><circle cx="91.7" cy="255.0" r="0.55"/><circle cx="101.5" cy="252.5" r="0.55"/><circle cx="98.6" cy="252.6" r="0.55"/><circle cx="104.3" cy="261.1" r="0.55"/><circle cx="109.6" cy="254.3" r="0.55"/><circle cx="101.9" cy="255.5" r="0.55"/><circle cx="98.1" cy="259.4" r="0.55"/><circle cx="89.6" cy="258.5" r="0.55"/><circle cx="97.2" cy="259.1" r="0.55"/><circle cx="98.6" cy="253.6" r="0.55"/><circle cx="99.2" cy="257.2" r="0.55"/><circle cx="97.7" cy="256.7" r="0.55"/><circle cx="94.4" cy="250.0" r="0.55"/><circle cx="102.9" cy="257.0" r="0.55"/><circle cx="98.4" cy="255.5" r="0.55"/><circle cx="103.7" cy="253.9" r="0.55"/><circle cx="93.3" cy="255.1" r="0.55"/><circle cx="104.6" cy="251.5" r="0.55"/><circle cx="104.7" cy="253.4" r="0.55"/><circle cx="90.9" cy="258.9" r="0.55"/><circle cx="96.9" cy="252.1" r="0.55"/><circle cx="95.3" cy="257.9" r="0.55"/><circle cx="104.7" cy="254.0" r="0.55"/><circle cx="99.9" cy="257.1" r="0.55"/><circle cx="93.6" cy="256.5" r="0.55"/><circle cx="97.3" cy="254.0" r="0.55"/><circle cx="94.5" cy="255.7" r="0.55"/><circle cx="97.7" cy="253.9" r="0.55"/><circle cx="94.9" cy="258.4" r="0.55"/><circle cx="98.8" cy="257.6" r="0.55"/><circle cx="104.7" cy="256.6" r="0.55"/><circle cx="111.1" cy="252.7" r="0.55"/><circle cx="102.4" cy="254.4" r="0.55"/><circle cx="108.6" cy="259.3" r="0.55"/><circle cx="85.8" cy="253.4" r="0.55"/><circle cx="101.5" cy="257.3" r="0.55"/><circle cx="101.9" cy="255.0" r="0.55"/><circle cx="100.2" cy="257.0" r="0.55"/><circle cx="97.0" cy="258.1" r="0.55"/><circle cx="83.9" cy="257.6" r="0.55"/><circle cx="91.3" cy="258.1" r="0.55"/><circle cx="96.1" cy="253.2" r="0.55"/><circle cx="99.7" cy="252.9" r="0.55"/><circle cx="92.0" cy="251.6" r="0.55"/><circle cx="97.3" cy="256.7" r="0.55"/><circle cx="103.6" cy="254.8" r="0.55"/><circle cx="103.8" cy="255.2" r="0.55"/><circle cx="96.9" cy="256.9" r="0.55"/><circle cx="103.9" cy="254.2" r="0.55"/><circle cx="96.0" cy="255.0" r="0.55"/><circle cx="98.0" cy="253.0" r="0.55"/><circle cx="103.7" cy="254.1" r="0.55"/><circle cx="100.3" cy="253.1" r="0.55"/><circle cx="99.7" cy="256.3" r="0.55"/><circle cx="95.0" cy="260.7" r="0.55"/><circle cx="99.7" cy="259.9" r="0.55"/><circle cx="103.3" cy="253.4" r="0.55"/><circle cx="95.2" cy="256.6" r="0.55"/><circle cx="97.9" cy="255.5" r="0.55"/><circle cx="95.8" cy="250.8" r="0.55"/><circle cx="96.1" cy="249.7" r="0.55"/><circle cx="99.7" cy="253.4" r="0.55"/><circle cx="93.2" cy="255.0" r="0.55"/><circle cx="99.1" cy="251.6" r="0.55"/><circle cx="87.0" cy="253.1" r="0.55"/><circle cx="85.2" cy="253.4" r="0.55"/><circle cx="107.0" cy="252.3" r="0.55"/><circle cx="101.4" cy="251.7" r="0.55"/><circle cx="99.3" cy="254.5" r="0.55"/><circle cx="97.1" cy="256.9" r="0.55"/><circle cx="108.0" cy="255.4" r="0.55"/><circle cx="98.2" cy="252.8" r="0.55"/><circle cx="101.0" cy="254.6" r="0.55"/><circle cx="102.5" cy="255.1" r="0.55"/><circle cx="107.9" cy="249.8" r="0.55"/><circle cx="95.7" cy="257.8" r="0.55"/><circle cx="95.4" cy="253.4" r="0.55"/><circle cx="95.9" cy="251.9" r="0.55"/><circle cx="98.2" cy="261.7" r="0.55"/><circle cx="104.4" cy="252.2" r="0.55"/><circle cx="92.3" cy="254.6" r="0.55"/><circle cx="103.5" cy="253.0" r="0.55"/><circle cx="93.4" cy="257.9" r="0.55"/><circle cx="102.7" cy="254.2" r="0.55"/><circle cx="90.8" cy="251.7" r="0.55"/><circle cx="93.3" cy="249.8" r="0.55"/><circle cx="102.0" cy="253.6" r="0.55"/><circle cx="100.4" cy="260.1" r="0.55"/><circle cx="104.5" cy="252.1" r="0.55"/><circle cx="102.7" cy="258.2" r="0.55"/><circle cx="93.0" cy="253.1" r="0.55"/><circle cx="96.8" cy="251.3" r="0.55"/><circle cx="106.3" cy="248.8" r="0.55"/><circle cx="90.9" cy="255.0" r="0.55"/><circle cx="96.1" cy="255.9" r="0.55"/><circle cx="99.1" cy="254.8" r="0.55"/><circle cx="104.3" cy="249.6" r="0.55"/><circle cx="97.5" cy="253.6" r="0.55"/><circle cx="98.3" cy="255.9" r="0.55"/><circle cx="92.0" cy="254.0" r="0.55"/><circle cx="102.3" cy="256.1" r="0.55"/><circle cx="93.4" cy="260.9" r="0.55"/><circle cx="111.4" cy="251.0" r="0.55"/><circle cx="99.3" cy="261.8" r="0.55"/><circle cx="102.2" cy="255.8" r="0.55"/><circle cx="96.3" cy="254.1" r="0.55"/><circle cx="96.2" cy="254.0" r="0.55"/><circle cx="102.0" cy="254.2" r="0.55"/><circle cx="94.9" cy="252.4" r="0.55"/><circle cx="97.2" cy="253.1" r="0.55"/><circle cx="96.4" cy="258.1" r="0.55"/><circle cx="99.7" cy="256.6" r="0.55"/><circle cx="99.6" cy="255.5" r="0.55"/><circle cx="96.7" cy="254.6" r="0.55"/><circle cx="102.1" cy="252.4" r="0.55"/><circle cx="105.5" cy="255.1" r="0.55"/><circle cx="93.0" cy="254.3" r="0.55"/><circle cx="93.4" cy="256.0" r="0.55"/><circle cx="93.2" cy="258.5" r="0.55"/><circle cx="92.8" cy="249.7" r="0.55"/><circle cx="93.1" cy="250.4" r="0.55"/><circle cx="97.3" cy="258.2" r="0.55"/><circle cx="101.4" cy="251.8" r="0.55"/><circle cx="92.9" cy="260.2" r="0.55"/><circle cx="99.4" cy="255.3" r="0.55"/><circle cx="103.8" cy="261.5" r="0.55"/><circle cx="105.3" cy="255.4" r="0.55"/><circle cx="99.6" cy="256.9" r="0.55"/><circle cx="93.8" cy="252.8" r="0.55"/><circle cx="97.8" cy="252.9" r="0.55"/><circle cx="97.1" cy="255.7" r="0.55"/><circle cx="111.5" cy="252.6" r="0.55"/><circle cx="96.8" cy="255.0" r="0.55"/><circle cx="100.1" cy="258.0" r="0.55"/><circle cx="94.6" cy="253.4" r="0.55"/><circle cx="87.7" cy="253.4" r="0.55"/><circle cx="100.7" cy="255.4" r="0.55"/><circle cx="91.4" cy="254.7" r="0.55"/><circle cx="97.7" cy="256.7" r="0.55"/><circle cx="93.9" cy="254.9" r="0.55"/><circle cx="86.6" cy="252.9" r="0.55"/><circle cx="107.2" cy="249.3" r="0.55"/><circle cx="95.5" cy="256.1" r="0.55"/><circle cx="95.3" cy="253.4" r="0.55"/><circle cx="97.1" cy="255.4" r="0.55"/><circle cx="97.0" cy="250.6" r="0.55"/><circle cx="96.6" cy="253.2" r="0.55"/><circle cx="94.2" cy="256.1" r="0.55"/><circle cx="101.3" cy="257.6" r="0.55"/><circle cx="94.5" cy="257.9" r="0.55"/><circle cx="104.5" cy="258.0" r="0.55"/><circle cx="105.8" cy="254.7" r="0.55"/><circle cx="96.5" cy="257.6" r="0.55"/><circle cx="89.3" cy="256.3" r="0.55"/><circle cx="94.3" cy="254.6" r="0.55"/><circle cx="87.1" cy="253.5" r="0.55"/><circle cx="97.4" cy="257.7" r="0.55"/><circle cx="103.4" cy="254.9" r="0.55"/><circle cx="96.4" cy="253.3" r="0.55"/><circle cx="99.9" cy="254.7" r="0.55"/><circle cx="101.1" cy="259.8" r="0.55"/><circle cx="97.3" cy="251.5" r="0.55"/><circle cx="92.3" cy="251.9" r="0.55"/><circle cx="90.3" cy="259.1" r="0.55"/><circle cx="98.9" cy="251.4" r="0.55"/><circle cx="101.4" cy="258.5" r="0.55"/><circle cx="95.3" cy="253.7" r="0.55"/><circle cx="95.5" cy="256.2" r="0.55"/><circle cx="101.3" cy="258.3" r="0.55"/><circle cx="104.8" cy="258.2" r="0.55"/><circle cx="105.7" cy="256.8" r="0.55"/><circle cx="88.3" cy="255.5" r="0.55"/><circle cx="99.4" cy="254.3" r="0.55"/><circle cx="103.0" cy="254.2" r="0.55"/><circle cx="91.9" cy="259.4" r="0.55"/><circle cx="101.5" cy="255.8" r="0.55"/><circle cx="103.1" cy="257.9" r="0.55"/><circle cx="99.5" cy="249.0" r="0.55"/><circle cx="93.4" cy="254.4" r="0.55"/><circle cx="91.6" cy="256.2" r="0.55"/><circle cx="104.7" cy="253.8" r="0.55"/><circle cx="90.7" cy="260.9" r="0.55"/><circle cx="94.8" cy="252.3" r="0.55"/><circle cx="98.9" cy="256.4" r="0.55"/><circle cx="93.3" cy="257.6" r="0.55"/><circle cx="94.6" cy="253.1" r="0.55"/><circle cx="98.6" cy="257.3" r="0.55"/><circle cx="93.7" cy="256.4" r="0.55"/><circle cx="96.9" cy="262.7" r="0.55"/><circle cx="93.2" cy="259.2" r="0.55"/><circle cx="97.2" cy="255.1" r="0.55"/><circle cx="101.8" cy="257.5" r="0.55"/><circle cx="105.1" cy="255.9" r="0.55"/><circle cx="93.9" cy="254.2" r="0.55"/><circle cx="100.6" cy="256.8" r="0.55"/><circle cx="105.9" cy="256.1" r="0.55"/><circle cx="103.9" cy="259.0" r="0.55"/><circle cx="98.5" cy="251.5" r="0.55"/><circle cx="90.4" cy="252.0" r="0.55"/><circle cx="107.0" cy="252.8" r="0.55"/><circle cx="104.9" cy="256.6" r="0.55"/><circle cx="107.8" cy="257.5" r="0.55"/><circle cx="96.9" cy="254.9" r="0.55"/><circle cx="98.0" cy="255.8" r="0.55"/><circle cx="94.3" cy="255.5" r="0.55"/><circle cx="107.2" cy="250.6" r="0.55"/><circle cx="99.1" cy="253.0" r="0.55"/><circle cx="98.6" cy="257.5" r="0.55"/><circle cx="97.2" cy="257.4" r="0.55"/><circle cx="88.0" cy="258.7" r="0.55"/><circle cx="93.9" cy="257.2" r="0.55"/><circle cx="98.6" cy="248.7" r="0.55"/><circle cx="93.0" cy="256.2" r="0.55"/><circle cx="106.8" cy="255.7" r="0.55"/><circle cx="99.0" cy="251.7" r="0.55"/><circle cx="106.1" cy="259.7" r="0.55"/><circle cx="97.7" cy="254.8" r="0.55"/><circle cx="87.8" cy="258.1" r="0.55"/><circle cx="113.7" cy="256.6" r="0.55"/><circle cx="105.1" cy="256.5" r="0.55"/><circle cx="91.6" cy="259.1" r="0.55"/><circle cx="90.1" cy="255.2" r="0.55"/><circle cx="99.2" cy="257.6" r="0.55"/><circle cx="100.0" cy="256.3" r="0.55"/><circle cx="92.9" cy="252.3" r="0.55"/><circle cx="97.9" cy="253.5" r="0.55"/><circle cx="89.7" cy="252.5" r="0.55"/><circle cx="94.6" cy="250.7" r="0.55"/><circle cx="89.4" cy="251.5" r="0.55"/><circle cx="98.6" cy="256.4" r="0.55"/><circle cx="109.5" cy="251.0" r="0.55"/><circle cx="93.4" cy="257.9" r="0.55"/><circle cx="96.2" cy="254.6" r="0.55"/><circle cx="107.8" cy="254.1" r="0.55"/><circle cx="90.6" cy="252.3" r="0.55"/><circle cx="99.5" cy="256.1" r="0.55"/><circle cx="89.3" cy="253.2" r="0.55"/><circle cx="100.7" cy="256.8" r="0.55"/><circle cx="93.6" cy="257.2" r="0.55"/><circle cx="100.9" cy="250.6" r="0.55"/><circle cx="95.6" cy="256.6" r="0.55"/><circle cx="94.1" cy="250.0" r="0.55"/><circle cx="95.8" cy="257.4" r="0.55"/><circle cx="107.0" cy="249.3" r="0.55"/><circle cx="113.2" cy="251.8" r="0.55"/><circle cx="103.2" cy="258.3" r="0.55"/><circle cx="103.4" cy="255.5" r="0.55"/><circle cx="90.5" cy="257.3" r="0.55"/><circle cx="93.2" cy="249.1" r="0.55"/><circle cx="114.5" cy="256.5" r="0.55"/><circle cx="108.4" cy="252.6" r="0.55"/><circle cx="106.3" cy="259.1" r="0.55"/><circle cx="106.8" cy="254.9" r="0.55"/></g>
<ellipse cx="97" cy="255.2" rx="4.8" ry="2.2" fill="#000" fill-opacity="0.45" filter="url(#bl2)" transform="rotate(-5,97,255.2)"/>
</g>
<line x1="75.50" y1="211.80" x2="75.50" y2="289.30" stroke="#b4b4b4" stroke-width="0.9"/>
<line x1="51.90" y1="270.40" x2="143.40" y2="270.40" stroke="#bdbdbd" stroke-width="0.9"/>
<rect x="51.9" y="211.8" width="91.5" height="77.5" fill="none" stroke="#333" stroke-width="1.4"/>
<text x="77.6" y="204.8" font-family="'Liberation Serif', serif" font-size="7.6" font-weight="bold" text-anchor="start" fill="#000" textLength="28.0" lengthAdjust="spacingAndGlyphs" stroke="#000" stroke-width="0.18" >GMCSF</text>
<text x="93.4" y="209.8" font-family="'Liberation Sans', sans-serif" font-size="3.2" font-weight="normal" text-anchor="middle" fill="#111" textLength="27" lengthAdjust="spacingAndGlyphs" >D20 .dff 042</text>
<text x="48.6" y="294.2" font-family="'Liberation Sans', sans-serif" font-size="4.3" font-weight="normal" text-anchor="start" fill="#333" textLength="4.6" lengthAdjust="spacingAndGlyphs" >10</text>
<text x="53.3" y="292.2" font-family="'Liberation Sans', sans-serif" font-size="3.0" font-weight="normal" text-anchor="start" fill="#333" >0</text>
<text x="71.48" y="294.2" font-family="'Liberation Sans', sans-serif" font-size="4.3" font-weight="normal" text-anchor="start" fill="#333" textLength="4.6" lengthAdjust="spacingAndGlyphs" >10</text>
<text x="76.18" y="292.2" font-family="'Liberation Sans', sans-serif" font-size="3.0" font-weight="normal" text-anchor="start" fill="#333" >1</text>
<text x="94.35" y="294.2" font-family="'Liberation Sans', sans-serif" font-size="4.3" font-weight="normal" text-anchor="start" fill="#333" textLength="4.6" lengthAdjust="spacingAndGlyphs" >10</text>
<text x="99.05" y="292.2" font-family="'Liberation Sans', sans-serif" font-size="3.0" font-weight="normal" text-anchor="start" fill="#333" >2</text>
<text x="117.23" y="294.2" font-family="'Liberation Sans', sans-serif" font-size="4.3" font-weight="normal" text-anchor="start" fill="#333" textLength="4.6" lengthAdjust="spacingAndGlyphs" >10</text>
<text x="121.93" y="292.2" font-family="'Liberation Sans', sans-serif" font-size="3.0" font-weight="normal" text-anchor="start" fill="#333" >3</text>
<text x="140.1" y="294.2" font-family="'Liberation Sans', sans-serif" font-size="4.3" font-weight="normal" text-anchor="start" fill="#333" textLength="4.6" lengthAdjust="spacingAndGlyphs" >10</text>
<text x="144.8" y="292.2" font-family="'Liberation Sans', sans-serif" font-size="3.0" font-weight="normal" text-anchor="start" fill="#333" >4</text>
<text x="90.9" y="298.2" font-family="'Liberation Sans', sans-serif" font-size="3.0" font-weight="normal" text-anchor="start" fill="#333" textLength="12.6" lengthAdjust="spacingAndGlyphs" >FL4-H</text>
<g transform="translate(49.3,292.1) rotate(-90)"><text x="0" y="0" font-family="'Liberation Sans', sans-serif" font-size="4.3" fill="#333" textLength="4.6" lengthAdjust="spacingAndGlyphs">10</text><text x="4.7" y="-2" font-family="'Liberation Sans', sans-serif" font-size="3.0" fill="#333">0</text></g>
<g transform="translate(49.3,272.725) rotate(-90)"><text x="0" y="0" font-family="'Liberation Sans', sans-serif" font-size="4.3" fill="#333" textLength="4.6" lengthAdjust="spacingAndGlyphs">10</text><text x="4.7" y="-2" font-family="'Liberation Sans', sans-serif" font-size="3.0" fill="#333">1</text></g>
<g transform="translate(49.3,253.35000000000002) rotate(-90)"><text x="0" y="0" font-family="'Liberation Sans', sans-serif" font-size="4.3" fill="#333" textLength="4.6" lengthAdjust="spacingAndGlyphs">10</text><text x="4.7" y="-2" font-family="'Liberation Sans', sans-serif" font-size="3.0" fill="#333">2</text></g>
<g transform="translate(49.3,233.97500000000002) rotate(-90)"><text x="0" y="0" font-family="'Liberation Sans', sans-serif" font-size="4.3" fill="#333" textLength="4.6" lengthAdjust="spacingAndGlyphs">10</text><text x="4.7" y="-2" font-family="'Liberation Sans', sans-serif" font-size="3.0" fill="#333">3</text></g>
<g transform="translate(49.3,214.60000000000002) rotate(-90)"><text x="0" y="0" font-family="'Liberation Sans', sans-serif" font-size="4.3" fill="#333" textLength="4.6" lengthAdjust="spacingAndGlyphs">10</text><text x="4.7" y="-2" font-family="'Liberation Sans', sans-serif" font-size="3.0" fill="#333">4</text></g>
<g transform="translate(41.3,255.8) rotate(-90)"><text x="0" y="0" font-family="'Liberation Sans', sans-serif" font-size="3.2" fill="#222" textLength="10" lengthAdjust="spacingAndGlyphs">FL1-H</text></g>
<clipPath id="cp1"><rect x="174" y="211.8" width="91.5" height="77.5"/></clipPath>
<g clip-path="url(#cp1)">
<g fill="#000" fill-opacity="0.09" filter="url(#bl)"><circle cx="207.6" cy="266.2" r="0.45"/><circle cx="195.6" cy="251.0" r="0.45"/><circle cx="223.1" cy="258.1" r="0.45"/><circle cx="220.0" cy="266.9" r="0.45"/><circle cx="245.2" cy="281.0" r="0.45"/><circle cx="221.5" cy="280.1" r="0.45"/><circle cx="212.6" cy="264.6" r="0.45"/><circle cx="232.9" cy="255.6" r="0.45"/><circle cx="218.7" cy="254.8" r="0.45"/><circle cx="223.4" cy="284.3" r="0.45"/><circle cx="213.0" cy="270.3" r="0.45"/><circle cx="211.2" cy="256.5" r="0.45"/><circle cx="207.2" cy="282.5" r="0.45"/><circle cx="250.3" cy="272.8" r="0.45"/><circle cx="213.4" cy="275.0" r="0.45"/><circle cx="218.0" cy="276.0" r="0.45"/><circle cx="225.5" cy="270.8" r="0.45"/><circle cx="229.3" cy="262.2" r="0.45"/><circle cx="217.1" cy="250.8" r="0.45"/><circle cx="216.7" cy="253.8" r="0.45"/><circle cx="220.3" cy="258.4" r="0.45"/><circle cx="223.2" cy="272.5" r="0.45"/><circle cx="205.0" cy="259.9" r="0.45"/><circle cx="210.7" cy="275.5" r="0.45"/><circle cx="242.5" cy="276.5" r="0.45"/><circle cx="217.8" cy="282.7" r="0.45"/><circle cx="203.8" cy="283.0" r="0.45"/><circle cx="214.1" cy="240.2" r="0.45"/><circle cx="253.8" cy="283.8" r="0.45"/><circle cx="209.6" cy="269.7" r="0.45"/><circle cx="219.4" cy="269.0" r="0.45"/><circle cx="204.2" cy="261.2" r="0.45"/><circle cx="227.6" cy="270.2" r="0.45"/><circle cx="236.4" cy="268.8" r="0.45"/><circle cx="250.2" cy="260.8" r="0.45"/><circle cx="225.1" cy="248.8" r="0.45"/><circle cx="207.0" cy="281.3" r="0.45"/><circle cx="210.7" cy="273.3" r="0.45"/><circle cx="221.3" cy="257.6" r="0.45"/><circle cx="217.8" cy="262.9" r="0.45"/><circle cx="216.2" cy="275.5" r="0.45"/><circle cx="229.8" cy="262.2" r="0.45"/><circle cx="211.1" cy="270.8" r="0.45"/><circle cx="220.8" cy="278.3" r="0.45"/><circle cx="253.9" cy="276.4" r="0.45"/><circle cx="221.6" cy="266.3" r="0.45"/><circle cx="211.7" cy="258.9" r="0.45"/><circle cx="210.0" cy="264.0" r="0.45"/><circle cx="216.9" cy="275.4" r="0.45"/><circle cx="217.2" cy="266.0" r="0.45"/><circle cx="207.4" cy="284.4" r="0.45"/><circle cx="228.1" cy="285.9" r="0.45"/><circle cx="231.6" cy="282.9" r="0.45"/><circle cx="219.0" cy="275.2" r="0.45"/><circle cx="254.5" cy="255.8" r="0.45"/><circle cx="236.1" cy="285.0" r="0.45"/><circle cx="227.1" cy="275.7" r="0.45"/><circle cx="237.4" cy="261.3" r="0.45"/><circle cx="227.0" cy="259.1" r="0.45"/><circle cx="213.7" cy="261.7" r="0.45"/><circle cx="220.2" cy="269.5" r="0.45"/><circle cx="227.6" cy="253.5" r="0.45"/><circle cx="246.3" cy="279.8" r="0.45"/><circle cx="230.9" cy="264.3" r="0.45"/><circle cx="220.9" cy="273.6" r="0.45"/><circle cx="227.1" cy="250.8" r="0.45"/><circle cx="199.3" cy="278.2" r="0.45"/><circle cx="226.5" cy="266.9" r="0.45"/><circle cx="238.9" cy="255.9" r="0.45"/><circle cx="224.0" cy="283.0" r="0.45"/><circle cx="219.6" cy="263.7" r="0.45"/><circle cx="223.4" cy="263.4" r="0.45"/><circle cx="241.1" cy="258.7" r="0.45"/><circle cx="232.8" cy="255.1" r="0.45"/><circle cx="230.3" cy="266.9" r="0.45"/><circle cx="190.1" cy="267.9" r="0.45"/><circle cx="208.8" cy="263.4" r="0.45"/><circle cx="241.0" cy="256.5" r="0.45"/><circle cx="208.9" cy="282.8" r="0.45"/><circle cx="223.4" cy="283.8" r="0.45"/><circle cx="226.0" cy="258.9" r="0.45"/><circle cx="221.2" cy="280.6" r="0.45"/><circle cx="233.6" cy="268.0" r="0.45"/><circle cx="222.6" cy="266.8" r="0.45"/><circle cx="214.9" cy="287.9" r="0.45"/><circle cx="222.1" cy="256.4" r="0.45"/><circle cx="216.1" cy="275.5" r="0.45"/><circle cx="229.9" cy="266.6" r="0.45"/><circle cx="213.8" cy="268.2" r="0.45"/><circle cx="201.4" cy="254.6" r="0.45"/><circle cx="231.9" cy="263.1" r="0.45"/><circle cx="226.6" cy="280.5" r="0.45"/><circle cx="230.0" cy="268.2" r="0.45"/><circle cx="248.3" cy="274.9" r="0.45"/><circle cx="217.6" cy="275.5" r="0.45"/><circle cx="227.0" cy="259.2" r="0.45"/><circle cx="222.9" cy="266.3" r="0.45"/><circle cx="197.7" cy="266.2" r="0.45"/><circle cx="218.5" cy="263.5" r="0.45"/><circle cx="201.7" cy="264.4" r="0.45"/><circle cx="221.5" cy="269.0" r="0.45"/><circle cx="208.0" cy="274.5" r="0.45"/><circle cx="207.0" cy="265.7" r="0.45"/><circle cx="238.1" cy="260.9" r="0.45"/><circle cx="215.7" cy="279.0" r="0.45"/><circle cx="217.3" cy="264.9" r="0.45"/><circle cx="224.7" cy="278.8" r="0.45"/><circle cx="194.8" cy="259.5" r="0.45"/><circle cx="209.6" cy="256.9" r="0.45"/><circle cx="211.5" cy="259.4" r="0.45"/><circle cx="225.7" cy="258.9" r="0.45"/><circle cx="223.5" cy="272.1" r="0.45"/><circle cx="213.0" cy="269.3" r="0.45"/><circle cx="242.1" cy="271.3" r="0.45"/><circle cx="214.2" cy="267.3" r="0.45"/><circle cx="210.7" cy="270.8" r="0.45"/><circle cx="232.6" cy="259.6" r="0.45"/><circle cx="219.4" cy="279.4" r="0.45"/><circle cx="215.9" cy="269.9" r="0.45"/><circle cx="209.4" cy="259.6" r="0.45"/><circle cx="217.1" cy="262.7" r="0.45"/><circle cx="215.2" cy="266.3" r="0.45"/><circle cx="229.9" cy="269.9" r="0.45"/><circle cx="246.7" cy="270.1" r="0.45"/><circle cx="239.4" cy="270.8" r="0.45"/><circle cx="229.3" cy="253.6" r="0.45"/><circle cx="220.5" cy="267.3" r="0.45"/><circle cx="219.1" cy="246.5" r="0.45"/></g>
<g fill="#000" fill-opacity="0.09" filter="url(#bl)"><circle cx="212.3" cy="278.7" r="0.45"/><circle cx="193.9" cy="279.5" r="0.45"/><circle cx="196.8" cy="283.4" r="0.45"/><circle cx="182.2" cy="275.4" r="0.45"/><circle cx="204.1" cy="281.9" r="0.45"/><circle cx="194.7" cy="277.6" r="0.45"/><circle cx="188.3" cy="280.6" r="0.45"/><circle cx="216.5" cy="274.7" r="0.45"/><circle cx="221.3" cy="286.1" r="0.45"/><circle cx="193.7" cy="285.7" r="0.45"/><circle cx="179.5" cy="270.6" r="0.45"/><circle cx="181.9" cy="278.5" r="0.45"/><circle cx="195.4" cy="277.9" r="0.45"/><circle cx="201.4" cy="268.2" r="0.45"/><circle cx="206.9" cy="272.5" r="0.45"/><circle cx="190.7" cy="278.5" r="0.45"/><circle cx="183.8" cy="272.8" r="0.45"/><circle cx="185.9" cy="280.9" r="0.45"/><circle cx="208.3" cy="284.4" r="0.45"/><circle cx="186.1" cy="276.3" r="0.45"/><circle cx="187.1" cy="283.7" r="0.45"/><circle cx="193.2" cy="276.3" r="0.45"/><circle cx="204.8" cy="287.2" r="0.45"/><circle cx="204.8" cy="287.3" r="0.45"/><circle cx="217.4" cy="280.4" r="0.45"/><circle cx="220.1" cy="282.0" r="0.45"/><circle cx="201.2" cy="275.5" r="0.45"/><circle cx="196.0" cy="285.7" r="0.45"/><circle cx="181.6" cy="284.9" r="0.45"/><circle cx="204.9" cy="282.7" r="0.45"/><circle cx="209.1" cy="276.4" r="0.45"/><circle cx="201.3" cy="266.7" r="0.45"/><circle cx="209.4" cy="277.0" r="0.45"/><circle cx="212.2" cy="269.9" r="0.45"/><circle cx="209.7" cy="279.6" r="0.45"/><circle cx="211.3" cy="275.4" r="0.45"/><circle cx="188.4" cy="276.8" r="0.45"/><circle cx="196.1" cy="274.9" r="0.45"/><circle cx="190.1" cy="270.6" r="0.45"/><circle cx="216.4" cy="287.7" r="0.45"/><circle cx="211.5" cy="287.9" r="0.45"/><circle cx="187.9" cy="280.0" r="0.45"/><circle cx="180.6" cy="272.5" r="0.45"/><circle cx="213.7" cy="277.0" r="0.45"/><circle cx="231.9" cy="281.4" r="0.45"/><circle cx="191.0" cy="285.8" r="0.45"/><circle cx="225.2" cy="283.9" r="0.45"/><circle cx="183.0" cy="283.2" r="0.45"/><circle cx="219.3" cy="278.0" r="0.45"/><circle cx="189.2" cy="287.1" r="0.45"/><circle cx="202.0" cy="274.4" r="0.45"/><circle cx="194.7" cy="276.5" r="0.45"/><circle cx="204.1" cy="281.7" r="0.45"/><circle cx="216.1" cy="285.3" r="0.45"/><circle cx="178.1" cy="283.4" r="0.45"/><circle cx="212.6" cy="283.7" r="0.45"/><circle cx="214.4" cy="277.7" r="0.45"/><circle cx="186.7" cy="286.6" r="0.45"/><circle cx="185.1" cy="268.0" r="0.45"/><circle cx="214.4" cy="276.7" r="0.45"/><circle cx="195.7" cy="272.6" r="0.45"/><circle cx="181.4" cy="274.1" r="0.45"/><circle cx="195.0" cy="283.2" r="0.45"/><circle cx="183.5" cy="274.6" r="0.45"/><circle cx="209.5" cy="280.6" r="0.45"/><circle cx="188.0" cy="282.5" r="0.45"/><circle cx="193.6" cy="287.0" r="0.45"/><circle cx="189.6" cy="287.7" r="0.45"/><circle cx="189.3" cy="278.8" r="0.45"/><circle cx="226.5" cy="282.9" r="0.45"/><circle cx="205.1" cy="276.1" r="0.45"/></g>
<ellipse cx="224.5" cy="284" rx="7" ry="8" fill="#000" fill-opacity="0.1" filter="url(#bl2)" transform="rotate(0,224.5,284)"/>
<g fill="#000" fill-opacity="0.14" filter="url(#bl)"><circle cx="227.8" cy="281.0" r="0.55"/><circle cx="221.9" cy="283.4" r="0.55"/><circle cx="225.3" cy="286.1" r="0.55"/><circle cx="215.3" cy="284.2" r="0.55"/><circle cx="222.7" cy="284.9" r="0.55"/><circle cx="225.9" cy="280.8" r="0.55"/><circle cx="227.1" cy="285.2" r="0.55"/><circle cx="221.6" cy="280.3" r="0.55"/><circle cx="219.2" cy="287.5" r="0.55"/><circle cx="220.2" cy="286.3" r="0.55"/><circle cx="231.5" cy="284.8" r="0.55"/><circle cx="226.8" cy="287.7" r="0.55"/><circle cx="225.5" cy="286.9" r="0.55"/><circle cx="229.0" cy="283.8" r="0.55"/><circle cx="232.3" cy="285.6" r="0.55"/><circle cx="228.9" cy="285.6" r="0.55"/><circle cx="223.1" cy="280.6" r="0.55"/><circle cx="221.3" cy="284.7" r="0.55"/><circle cx="234.2" cy="286.9" r="0.55"/><circle cx="228.7" cy="281.8" r="0.55"/><circle cx="232.6" cy="283.1" r="0.55"/><circle cx="227.2" cy="287.3" r="0.55"/><circle cx="219.9" cy="285.9" r="0.55"/><circle cx="223.3" cy="276.2" r="0.55"/><circle cx="227.2" cy="288.3" r="0.55"/><circle cx="222.5" cy="280.4" r="0.55"/><circle cx="231.2" cy="287.1" r="0.55"/><circle cx="223.4" cy="285.7" r="0.55"/><circle cx="224.1" cy="286.0" r="0.55"/><circle cx="229.5" cy="286.5" r="0.55"/><circle cx="223.8" cy="284.8" r="0.55"/><circle cx="226.0" cy="282.2" r="0.55"/><circle cx="222.2" cy="285.8" r="0.55"/><circle cx="222.0" cy="285.5" r="0.55"/><circle cx="230.5" cy="287.9" r="0.55"/><circle cx="226.0" cy="285.6" r="0.55"/><circle cx="225.9" cy="287.3" r="0.55"/><circle cx="230.8" cy="285.9" r="0.55"/><circle cx="233.9" cy="282.3" r="0.55"/><circle cx="227.6" cy="281.8" r="0.55"/><circle cx="232.7" cy="284.6" r="0.55"/><circle cx="230.1" cy="281.3" r="0.55"/><circle cx="222.9" cy="280.1" r="0.55"/><circle cx="225.1" cy="285.6" r="0.55"/><circle cx="222.9" cy="283.1" r="0.55"/><circle cx="222.8" cy="282.9" r="0.55"/><circle cx="215.8" cy="285.5" r="0.55"/><circle cx="222.6" cy="288.1" r="0.55"/><circle cx="220.2" cy="285.4" r="0.55"/><circle cx="224.9" cy="285.3" r="0.55"/><circle cx="226.2" cy="285.0" r="0.55"/><circle cx="225.8" cy="285.4" r="0.55"/><circle cx="219.6" cy="282.7" r="0.55"/><circle cx="221.2" cy="281.0" r="0.55"/><circle cx="221.6" cy="283.9" r="0.55"/><circle cx="217.4" cy="286.1" r="0.55"/><circle cx="218.7" cy="280.9" r="0.55"/><circle cx="228.6" cy="283.1" r="0.55"/><circle cx="228.2" cy="284.6" r="0.55"/><circle cx="224.7" cy="282.5" r="0.55"/><circle cx="219.5" cy="286.0" r="0.55"/><circle cx="227.7" cy="288.0" r="0.55"/><circle cx="222.1" cy="285.6" r="0.55"/><circle cx="218.7" cy="287.0" r="0.55"/><circle cx="224.9" cy="277.2" r="0.55"/><circle cx="221.5" cy="286.5" r="0.55"/><circle cx="218.8" cy="282.4" r="0.55"/><circle cx="222.9" cy="287.4" r="0.55"/><circle cx="223.8" cy="282.3" r="0.55"/><circle cx="228.0" cy="283.7" r="0.55"/><circle cx="222.3" cy="280.2" r="0.55"/><circle cx="217.2" cy="285.7" r="0.55"/><circle cx="227.7" cy="284.4" r="0.55"/><circle cx="225.6" cy="281.3" r="0.55"/><circle cx="225.6" cy="278.6" r="0.55"/><circle cx="232.2" cy="287.2" r="0.55"/><circle cx="230.1" cy="283.4" r="0.55"/><circle cx="223.6" cy="286.0" r="0.55"/><circle cx="226.4" cy="279.6" r="0.55"/><circle cx="219.3" cy="280.3" r="0.55"/><circle cx="226.1" cy="283.3" r="0.55"/><circle cx="225.2" cy="284.0" r="0.55"/><circle cx="234.0" cy="286.6" r="0.55"/><circle cx="221.1" cy="286.4" r="0.55"/><circle cx="219.8" cy="282.8" r="0.55"/><circle cx="226.2" cy="283.7" r="0.55"/><circle cx="226.9" cy="288.0" r="0.55"/><circle cx="231.1" cy="285.9" r="0.55"/><circle cx="232.8" cy="282.0" r="0.55"/><circle cx="223.4" cy="280.2" r="0.55"/><circle cx="223.0" cy="288.2" r="0.55"/><circle cx="231.0" cy="283.2" r="0.55"/><circle cx="224.5" cy="284.5" r="0.55"/><circle cx="221.2" cy="281.0" r="0.55"/><circle cx="224.8" cy="278.7" r="0.55"/><circle cx="225.0" cy="286.1" r="0.55"/><circle cx="221.5" cy="281.8" r="0.55"/><circle cx="227.2" cy="284.5" r="0.55"/><circle cx="232.3" cy="282.1" r="0.55"/><circle cx="221.9" cy="288.3" r="0.55"/><circle cx="221.2" cy="276.7" r="0.55"/><circle cx="223.9" cy="285.4" r="0.55"/><circle cx="233.1" cy="284.6" r="0.55"/><circle cx="231.6" cy="285.7" r="0.55"/><circle cx="229.2" cy="288.2" r="0.55"/><circle cx="223.2" cy="286.3" r="0.55"/><circle cx="224.6" cy="282.2" r="0.55"/><circle cx="230.0" cy="280.2" r="0.55"/><circle cx="224.1" cy="282.8" r="0.55"/><circle cx="223.5" cy="288.0" r="0.55"/><circle cx="227.8" cy="287.2" r="0.55"/><circle cx="229.0" cy="283.7" r="0.55"/><circle cx="225.6" cy="279.4" r="0.55"/><circle cx="227.9" cy="286.6" r="0.55"/><circle cx="227.6" cy="274.2" r="0.55"/><circle cx="224.7" cy="279.9" r="0.55"/><circle cx="222.2" cy="286.3" r="0.55"/><circle cx="223.4" cy="287.5" r="0.55"/><circle cx="220.3" cy="287.2" r="0.55"/><circle cx="220.3" cy="283.1" r="0.55"/><circle cx="222.4" cy="285.8" r="0.55"/><circle cx="229.7" cy="280.6" r="0.55"/><circle cx="227.0" cy="288.0" r="0.55"/><circle cx="231.3" cy="288.0" r="0.55"/><circle cx="232.6" cy="278.0" r="0.55"/><circle cx="230.3" cy="284.9" r="0.55"/><circle cx="223.2" cy="281.9" r="0.55"/><circle cx="216.1" cy="284.4" r="0.55"/><circle cx="221.4" cy="288.1" r="0.55"/><circle cx="225.7" cy="285.0" r="0.55"/><circle cx="221.3" cy="282.7" r="0.55"/><circle cx="219.4" cy="283.7" r="0.55"/><circle cx="224.5" cy="285.3" r="0.55"/><circle cx="218.1" cy="284.9" r="0.55"/><circle cx="220.5" cy="286.7" r="0.55"/><circle cx="223.1" cy="279.2" r="0.55"/><circle cx="218.1" cy="278.9" r="0.55"/><circle cx="227.8" cy="282.8" r="0.55"/><circle cx="224.8" cy="283.4" r="0.55"/><circle cx="221.4" cy="284.6" r="0.55"/><circle cx="219.9" cy="281.2" r="0.55"/><circle cx="218.3" cy="280.1" r="0.55"/><circle cx="225.6" cy="281.4" r="0.55"/><circle cx="223.3" cy="285.0" r="0.55"/><circle cx="215.9" cy="287.6" r="0.55"/><circle cx="226.0" cy="283.6" r="0.55"/><circle cx="225.2" cy="287.8" r="0.55"/><circle cx="227.6" cy="277.5" r="0.55"/><circle cx="218.2" cy="285.5" r="0.55"/><circle cx="220.8" cy="283.5" r="0.55"/><circle cx="228.9" cy="282.6" r="0.55"/><circle cx="223.9" cy="278.0" r="0.55"/><circle cx="223.8" cy="286.4" r="0.55"/><circle cx="221.3" cy="283.0" r="0.55"/><circle cx="233.0" cy="280.9" r="0.55"/><circle cx="219.8" cy="282.6" r="0.55"/><circle cx="226.0" cy="283.0" r="0.55"/><circle cx="230.9" cy="286.3" r="0.55"/><circle cx="231.5" cy="281.6" r="0.55"/><circle cx="229.8" cy="284.4" r="0.55"/><circle cx="221.0" cy="286.4" r="0.55"/><circle cx="223.5" cy="281.9" r="0.55"/><circle cx="217.3" cy="282.0" r="0.55"/><circle cx="222.2" cy="285.7" r="0.55"/><circle cx="225.8" cy="281.5" r="0.55"/><circle cx="220.0" cy="286.4" r="0.55"/><circle cx="223.1" cy="281.5" r="0.55"/><circle cx="226.2" cy="284.9" r="0.55"/><circle cx="229.1" cy="286.0" r="0.55"/><circle cx="223.1" cy="286.5" r="0.55"/><circle cx="223.7" cy="283.2" r="0.55"/><circle cx="216.9" cy="284.3" r="0.55"/><circle cx="222.6" cy="286.7" r="0.55"/><circle cx="222.5" cy="283.8" r="0.55"/><circle cx="228.0" cy="286.7" r="0.55"/><circle cx="229.0" cy="283.6" r="0.55"/><circle cx="228.2" cy="282.9" r="0.55"/><circle cx="229.6" cy="285.1" r="0.55"/><circle cx="220.9" cy="284.4" r="0.55"/><circle cx="221.1" cy="286.8" r="0.55"/><circle cx="225.3" cy="286.2" r="0.55"/><circle cx="222.0" cy="270.6" r="0.55"/><circle cx="224.9" cy="278.0" r="0.55"/><circle cx="225.7" cy="284.4" r="0.55"/><circle cx="223.7" cy="285.4" r="0.55"/><circle cx="222.0" cy="283.5" r="0.55"/><circle cx="223.4" cy="286.3" r="0.55"/><circle cx="223.7" cy="287.9" r="0.55"/><circle cx="228.2" cy="287.0" r="0.55"/><circle cx="221.5" cy="282.7" r="0.55"/><circle cx="232.0" cy="284.8" r="0.55"/><circle cx="229.4" cy="288.2" r="0.55"/><circle cx="226.3" cy="288.3" r="0.55"/><circle cx="223.7" cy="280.1" r="0.55"/><circle cx="218.5" cy="287.7" r="0.55"/><circle cx="226.3" cy="285.0" r="0.55"/><circle cx="219.2" cy="279.9" r="0.55"/><circle cx="223.0" cy="279.9" r="0.55"/><circle cx="221.8" cy="282.3" r="0.55"/><circle cx="209.0" cy="283.5" r="0.55"/><circle cx="231.0" cy="281.5" r="0.55"/><circle cx="222.4" cy="280.2" r="0.55"/><circle cx="227.9" cy="281.0" r="0.55"/><circle cx="225.3" cy="285.0" r="0.55"/><circle cx="224.9" cy="285.2" r="0.55"/><circle cx="226.8" cy="284.3" r="0.55"/><circle cx="228.3" cy="287.0" r="0.55"/><circle cx="223.2" cy="285.5" r="0.55"/><circle cx="223.3" cy="287.2" r="0.55"/><circle cx="222.7" cy="279.8" r="0.55"/><circle cx="228.6" cy="281.6" r="0.55"/><circle cx="227.6" cy="287.8" r="0.55"/><circle cx="217.0" cy="282.0" r="0.55"/><circle cx="222.2" cy="282.6" r="0.55"/><circle cx="223.4" cy="287.6" r="0.55"/><circle cx="222.6" cy="287.3" r="0.55"/><circle cx="221.1" cy="285.9" r="0.55"/><circle cx="227.1" cy="286.2" r="0.55"/><circle cx="222.4" cy="281.4" r="0.55"/><circle cx="225.3" cy="287.4" r="0.55"/><circle cx="223.3" cy="282.8" r="0.55"/><circle cx="223.1" cy="287.4" r="0.55"/><circle cx="226.2" cy="275.2" r="0.55"/><circle cx="225.1" cy="283.0" r="0.55"/><circle cx="230.7" cy="284.9" r="0.55"/><circle cx="221.0" cy="285.1" r="0.55"/><circle cx="225.2" cy="283.6" r="0.55"/><circle cx="224.3" cy="280.3" r="0.55"/><circle cx="229.4" cy="285.5" r="0.55"/><circle cx="225.7" cy="286.8" r="0.55"/><circle cx="225.9" cy="286.8" r="0.55"/><circle cx="221.0" cy="277.2" r="0.55"/><circle cx="221.5" cy="277.5" r="0.55"/><circle cx="224.8" cy="286.0" r="0.55"/><circle cx="228.4" cy="286.4" r="0.55"/><circle cx="226.5" cy="287.8" r="0.55"/><circle cx="228.7" cy="283.0" r="0.55"/><circle cx="221.8" cy="282.5" r="0.55"/><circle cx="221.1" cy="285.6" r="0.55"/><circle cx="218.0" cy="281.6" r="0.55"/><circle cx="227.1" cy="285.7" r="0.55"/><circle cx="226.2" cy="278.1" r="0.55"/><circle cx="221.0" cy="283.7" r="0.55"/><circle cx="224.6" cy="283.5" r="0.55"/><circle cx="228.7" cy="285.8" r="0.55"/><circle cx="224.6" cy="286.1" r="0.55"/><circle cx="227.7" cy="284.0" r="0.55"/><circle cx="229.6" cy="287.9" r="0.55"/><circle cx="225.2" cy="286.2" r="0.55"/><circle cx="228.8" cy="287.6" r="0.55"/><circle cx="228.4" cy="286.5" r="0.55"/><circle cx="230.1" cy="285.9" r="0.55"/><circle cx="225.0" cy="281.1" r="0.55"/><circle cx="223.6" cy="282.3" r="0.55"/><circle cx="234.0" cy="288.1" r="0.55"/><circle cx="217.4" cy="288.3" r="0.55"/><circle cx="219.8" cy="276.6" r="0.55"/><circle cx="224.8" cy="284.5" r="0.55"/><circle cx="222.6" cy="277.0" r="0.55"/><circle cx="226.5" cy="285.2" r="0.55"/><circle cx="229.5" cy="288.2" r="0.55"/><circle cx="222.2" cy="278.5" r="0.55"/><circle cx="233.6" cy="284.5" r="0.55"/><circle cx="221.8" cy="287.4" r="0.55"/><circle cx="217.5" cy="280.3" r="0.55"/><circle cx="222.3" cy="283.8" r="0.55"/><circle cx="222.4" cy="288.1" r="0.55"/><circle cx="227.2" cy="281.4" r="0.55"/><circle cx="225.5" cy="282.0" r="0.55"/><circle cx="229.3" cy="287.9" r="0.55"/><circle cx="224.6" cy="280.4" r="0.55"/><circle cx="225.0" cy="282.8" r="0.55"/><circle cx="227.7" cy="285.5" r="0.55"/><circle cx="227.7" cy="283.5" r="0.55"/><circle cx="229.7" cy="284.7" r="0.55"/><circle cx="223.1" cy="286.5" r="0.55"/><circle cx="221.1" cy="284.1" r="0.55"/><circle cx="231.2" cy="284.9" r="0.55"/><circle cx="231.7" cy="285.8" r="0.55"/><circle cx="225.6" cy="281.0" r="0.55"/><circle cx="230.4" cy="284.3" r="0.55"/><circle cx="223.1" cy="273.4" r="0.55"/><circle cx="232.1" cy="285.8" r="0.55"/><circle cx="228.7" cy="282.9" r="0.55"/><circle cx="226.3" cy="280.4" r="0.55"/><circle cx="226.1" cy="285.2" r="0.55"/><circle cx="220.8" cy="287.8" r="0.55"/><circle cx="222.7" cy="279.4" r="0.55"/><circle cx="217.7" cy="286.9" r="0.55"/><circle cx="219.0" cy="284.6" r="0.55"/><circle cx="221.6" cy="281.1" r="0.55"/><circle cx="226.2" cy="283.4" r="0.55"/><circle cx="226.3" cy="286.5" r="0.55"/><circle cx="228.3" cy="280.8" r="0.55"/><circle cx="225.0" cy="285.3" r="0.55"/><circle cx="219.5" cy="286.9" r="0.55"/><circle cx="224.7" cy="284.3" r="0.55"/><circle cx="226.3" cy="280.0" r="0.55"/><circle cx="224.3" cy="287.8" r="0.55"/><circle cx="219.1" cy="279.7" r="0.55"/><circle cx="225.6" cy="287.9" r="0.55"/><circle cx="220.7" cy="279.8" r="0.55"/><circle cx="236.2" cy="287.4" r="0.55"/><circle cx="232.7" cy="287.2" r="0.55"/><circle cx="230.0" cy="281.7" r="0.55"/><circle cx="231.1" cy="288.1" r="0.55"/><circle cx="225.5" cy="286.7" r="0.55"/><circle cx="227.5" cy="288.1" r="0.55"/><circle cx="219.2" cy="288.1" r="0.55"/><circle cx="234.3" cy="283.8" r="0.55"/><circle cx="217.2" cy="288.1" r="0.55"/><circle cx="219.2" cy="282.5" r="0.55"/><circle cx="227.0" cy="284.8" r="0.55"/><circle cx="220.5" cy="283.3" r="0.55"/><circle cx="219.7" cy="283.8" r="0.55"/><circle cx="219.6" cy="283.2" r="0.55"/><circle cx="223.6" cy="281.8" r="0.55"/><circle cx="218.1" cy="280.3" r="0.55"/><circle cx="226.5" cy="286.3" r="0.55"/><circle cx="229.9" cy="285.1" r="0.55"/><circle cx="219.3" cy="287.6" r="0.55"/><circle cx="216.1" cy="282.7" r="0.55"/><circle cx="227.9" cy="286.3" r="0.55"/><circle cx="219.8" cy="287.2" r="0.55"/><circle cx="222.3" cy="282.4" r="0.55"/><circle cx="226.6" cy="281.8" r="0.55"/><circle cx="233.1" cy="283.5" r="0.55"/><circle cx="233.5" cy="281.4" r="0.55"/><circle cx="227.2" cy="281.0" r="0.55"/><circle cx="218.5" cy="286.7" r="0.55"/></g>
<ellipse cx="224.5" cy="287" rx="4.6" ry="3.6" fill="#000" fill-opacity="0.6" filter="url(#bl2)" transform="rotate(0,224.5,287)"/>
<ellipse cx="224" cy="283" rx="3.5" ry="4.5" fill="#000" fill-opacity="0.2" filter="url(#bl2)" transform="rotate(0,224,283)"/>
</g>
<line x1="197.60" y1="211.80" x2="197.60" y2="289.30" stroke="#b4b4b4" stroke-width="0.9"/>
<line x1="174.00" y1="270.40" x2="265.50" y2="270.40" stroke="#bdbdbd" stroke-width="0.9"/>
<rect x="174" y="211.8" width="91.5" height="77.5" fill="none" stroke="#333" stroke-width="1.4"/>
<text x="194" y="204.8" font-family="'Liberation Serif', serif" font-size="7.6" font-weight="bold" text-anchor="start" fill="#000" textLength="44.4" lengthAdjust="spacingAndGlyphs" stroke="#000" stroke-width="0.18" >GMCSF/IL-4</text>
<text x="215.4" y="209.8" font-family="'Liberation Sans', sans-serif" font-size="3.2" font-weight="normal" text-anchor="middle" fill="#111" textLength="27" lengthAdjust="spacingAndGlyphs" >D20 .dff 018</text>
<text x="170.7" y="294.2" font-family="'Liberation Sans', sans-serif" font-size="4.3" font-weight="normal" text-anchor="start" fill="#333" textLength="4.6" lengthAdjust="spacingAndGlyphs" >10</text>
<text x="175.4" y="292.2" font-family="'Liberation Sans', sans-serif" font-size="3.0" font-weight="normal" text-anchor="start" fill="#333" >0</text>
<text x="193.57" y="294.2" font-family="'Liberation Sans', sans-serif" font-size="4.3" font-weight="normal" text-anchor="start" fill="#333" textLength="4.6" lengthAdjust="spacingAndGlyphs" >10</text>
<text x="198.28" y="292.2" font-family="'Liberation Sans', sans-serif" font-size="3.0" font-weight="normal" text-anchor="start" fill="#333" >1</text>
<text x="216.45" y="294.2" font-family="'Liberation Sans', sans-serif" font-size="4.3" font-weight="normal" text-anchor="start" fill="#333" textLength="4.6" lengthAdjust="spacingAndGlyphs" >10</text>
<text x="221.15" y="292.2" font-family="'Liberation Sans', sans-serif" font-size="3.0" font-weight="normal" text-anchor="start" fill="#333" >2</text>
<text x="239.32" y="294.2" font-family="'Liberation Sans', sans-serif" font-size="4.3" font-weight="normal" text-anchor="start" fill="#333" textLength="4.6" lengthAdjust="spacingAndGlyphs" >10</text>
<text x="244.03" y="292.2" font-family="'Liberation Sans', sans-serif" font-size="3.0" font-weight="normal" text-anchor="start" fill="#333" >3</text>
<text x="262.2" y="294.2" font-family="'Liberation Sans', sans-serif" font-size="4.3" font-weight="normal" text-anchor="start" fill="#333" textLength="4.6" lengthAdjust="spacingAndGlyphs" >10</text>
<text x="266.9" y="292.2" font-family="'Liberation Sans', sans-serif" font-size="3.0" font-weight="normal" text-anchor="start" fill="#333" >4</text>
<text x="213" y="298.2" font-family="'Liberation Sans', sans-serif" font-size="3.0" font-weight="normal" text-anchor="start" fill="#333" textLength="12.6" lengthAdjust="spacingAndGlyphs" >FL4-H</text>
<g transform="translate(171.4,292.1) rotate(-90)"><text x="0" y="0" font-family="'Liberation Sans', sans-serif" font-size="4.3" fill="#333" textLength="4.6" lengthAdjust="spacingAndGlyphs">10</text><text x="4.7" y="-2" font-family="'Liberation Sans', sans-serif" font-size="3.0" fill="#333">0</text></g>
<g transform="translate(171.4,272.725) rotate(-90)"><text x="0" y="0" font-family="'Liberation Sans', sans-serif" font-size="4.3" fill="#333" textLength="4.6" lengthAdjust="spacingAndGlyphs">10</text><text x="4.7" y="-2" font-family="'Liberation Sans', sans-serif" font-size="3.0" fill="#333">1</text></g>
<g transform="translate(171.4,253.35000000000002) rotate(-90)"><text x="0" y="0" font-family="'Liberation Sans', sans-serif" font-size="4.3" fill="#333" textLength="4.6" lengthAdjust="spacingAndGlyphs">10</text><text x="4.7" y="-2" font-family="'Liberation Sans', sans-serif" font-size="3.0" fill="#333">2</text></g>
<g transform="translate(171.4,233.97500000000002) rotate(-90)"><text x="0" y="0" font-family="'Liberation Sans', sans-serif" font-size="4.3" fill="#333" textLength="4.6" lengthAdjust="spacingAndGlyphs">10</text><text x="4.7" y="-2" font-family="'Liberation Sans', sans-serif" font-size="3.0" fill="#333">3</text></g>
<g transform="translate(171.4,214.60000000000002) rotate(-90)"><text x="0" y="0" font-family="'Liberation Sans', sans-serif" font-size="4.3" fill="#333" textLength="4.6" lengthAdjust="spacingAndGlyphs">10</text><text x="4.7" y="-2" font-family="'Liberation Sans', sans-serif" font-size="3.0" fill="#333">4</text></g>
<g transform="translate(163.4,255.8) rotate(-90)"><text x="0" y="0" font-family="'Liberation Sans', sans-serif" font-size="3.2" fill="#222" textLength="10" lengthAdjust="spacingAndGlyphs">FL1-H</text></g>
<clipPath id="cp2"><rect x="297" y="211.8" width="91.5" height="77.5"/></clipPath>
<g clip-path="url(#cp2)">
<g fill="#000" fill-opacity="0.09" filter="url(#bl)"><circle cx="344.8" cy="250.0" r="0.45"/><circle cx="351.4" cy="255.2" r="0.45"/><circle cx="337.7" cy="268.2" r="0.45"/><circle cx="343.7" cy="244.2" r="0.45"/><circle cx="357.0" cy="270.2" r="0.45"/><circle cx="330.5" cy="252.7" r="0.45"/><circle cx="314.0" cy="249.0" r="0.45"/><circle cx="343.1" cy="260.2" r="0.45"/><circle cx="321.3" cy="258.2" r="0.45"/><circle cx="356.3" cy="260.4" r="0.45"/><circle cx="328.4" cy="278.9" r="0.45"/><circle cx="342.0" cy="264.5" r="0.45"/><circle cx="328.1" cy="246.9" r="0.45"/><circle cx="320.8" cy="258.7" r="0.45"/><circle cx="333.1" cy="267.9" r="0.45"/><circle cx="343.2" cy="266.5" r="0.45"/><circle cx="338.9" cy="252.9" r="0.45"/><circle cx="308.0" cy="258.3" r="0.45"/><circle cx="323.6" cy="256.8" r="0.45"/><circle cx="332.4" cy="250.3" r="0.45"/><circle cx="321.6" cy="262.9" r="0.45"/><circle cx="337.5" cy="256.8" r="0.45"/><circle cx="342.5" cy="261.6" r="0.45"/><circle cx="322.7" cy="264.4" r="0.45"/><circle cx="360.5" cy="256.6" r="0.45"/><circle cx="351.2" cy="279.2" r="0.45"/><circle cx="355.5" cy="255.0" r="0.45"/><circle cx="362.2" cy="265.3" r="0.45"/><circle cx="332.7" cy="261.5" r="0.45"/><circle cx="343.8" cy="264.6" r="0.45"/><circle cx="333.7" cy="278.1" r="0.45"/><circle cx="326.6" cy="252.5" r="0.45"/><circle cx="346.3" cy="271.7" r="0.45"/><circle cx="350.2" cy="252.2" r="0.45"/><circle cx="350.1" cy="269.3" r="0.45"/><circle cx="358.9" cy="250.3" r="0.45"/><circle cx="338.8" cy="260.9" r="0.45"/><circle cx="315.3" cy="256.1" r="0.45"/><circle cx="350.7" cy="258.8" r="0.45"/><circle cx="326.6" cy="273.6" r="0.45"/><circle cx="348.9" cy="274.9" r="0.45"/><circle cx="325.7" cy="263.4" r="0.45"/><circle cx="349.4" cy="256.8" r="0.45"/><circle cx="326.3" cy="273.1" r="0.45"/><circle cx="356.3" cy="251.3" r="0.45"/><circle cx="302.2" cy="248.0" r="0.45"/><circle cx="322.8" cy="262.5" r="0.45"/><circle cx="344.0" cy="262.4" r="0.45"/><circle cx="326.9" cy="265.7" r="0.45"/><circle cx="323.5" cy="263.5" r="0.45"/><circle cx="346.6" cy="254.8" r="0.45"/><circle cx="323.0" cy="259.2" r="0.45"/><circle cx="314.6" cy="256.0" r="0.45"/><circle cx="326.4" cy="273.7" r="0.45"/><circle cx="330.5" cy="255.3" r="0.45"/><circle cx="318.6" cy="251.1" r="0.45"/><circle cx="335.1" cy="261.6" r="0.45"/><circle cx="350.7" cy="257.1" r="0.45"/><circle cx="349.8" cy="266.8" r="0.45"/><circle cx="335.9" cy="241.9" r="0.45"/><circle cx="319.2" cy="272.2" r="0.45"/><circle cx="354.2" cy="266.3" r="0.45"/><circle cx="345.9" cy="259.5" r="0.45"/><circle cx="331.2" cy="256.7" r="0.45"/><circle cx="348.7" cy="267.8" r="0.45"/><circle cx="333.0" cy="260.4" r="0.45"/><circle cx="343.2" cy="267.6" r="0.45"/><circle cx="325.2" cy="282.9" r="0.45"/><circle cx="339.3" cy="264.1" r="0.45"/><circle cx="355.2" cy="275.3" r="0.45"/><circle cx="334.9" cy="269.9" r="0.45"/><circle cx="322.1" cy="257.0" r="0.45"/><circle cx="306.6" cy="277.4" r="0.45"/><circle cx="311.3" cy="271.5" r="0.45"/><circle cx="325.2" cy="253.2" r="0.45"/><circle cx="333.5" cy="266.9" r="0.45"/><circle cx="344.0" cy="283.5" r="0.45"/><circle cx="340.7" cy="273.7" r="0.45"/><circle cx="328.2" cy="271.9" r="0.45"/><circle cx="338.0" cy="258.9" r="0.45"/><circle cx="334.8" cy="263.3" r="0.45"/><circle cx="338.5" cy="268.4" r="0.45"/><circle cx="329.4" cy="255.9" r="0.45"/><circle cx="345.7" cy="245.3" r="0.45"/><circle cx="328.0" cy="281.1" r="0.45"/><circle cx="300.8" cy="256.4" r="0.45"/><circle cx="344.9" cy="245.8" r="0.45"/><circle cx="369.8" cy="235.5" r="0.45"/><circle cx="354.7" cy="281.1" r="0.45"/><circle cx="347.9" cy="261.6" r="0.45"/><circle cx="340.6" cy="254.1" r="0.45"/><circle cx="346.5" cy="251.7" r="0.45"/><circle cx="332.4" cy="275.0" r="0.45"/><circle cx="321.5" cy="260.0" r="0.45"/><circle cx="338.1" cy="249.2" r="0.45"/><circle cx="351.1" cy="267.7" r="0.45"/><circle cx="316.3" cy="263.5" r="0.45"/><circle cx="325.9" cy="256.8" r="0.45"/><circle cx="337.0" cy="256.2" r="0.45"/><circle cx="348.5" cy="256.2" r="0.45"/><circle cx="348.8" cy="263.5" r="0.45"/><circle cx="347.1" cy="258.0" r="0.45"/><circle cx="329.4" cy="251.3" r="0.45"/><circle cx="343.5" cy="274.3" r="0.45"/><circle cx="363.5" cy="278.2" r="0.45"/><circle cx="339.2" cy="261.7" r="0.45"/><circle cx="341.1" cy="263.7" r="0.45"/><circle cx="355.0" cy="274.4" r="0.45"/><circle cx="325.1" cy="256.4" r="0.45"/><circle cx="353.8" cy="267.4" r="0.45"/><circle cx="333.0" cy="277.0" r="0.45"/><circle cx="331.0" cy="260.9" r="0.45"/><circle cx="330.0" cy="242.4" r="0.45"/><circle cx="347.2" cy="250.7" r="0.45"/><circle cx="328.6" cy="255.8" r="0.45"/><circle cx="345.5" cy="263.2" r="0.45"/><circle cx="336.2" cy="245.5" r="0.45"/><circle cx="334.9" cy="247.8" r="0.45"/><circle cx="340.0" cy="268.0" r="0.45"/><circle cx="335.8" cy="286.5" r="0.45"/><circle cx="342.9" cy="270.6" r="0.45"/><circle cx="337.9" cy="261.9" r="0.45"/><circle cx="348.6" cy="276.1" r="0.45"/><circle cx="319.1" cy="275.6" r="0.45"/><circle cx="342.7" cy="274.6" r="0.45"/><circle cx="342.1" cy="250.3" r="0.45"/><circle cx="320.8" cy="284.1" r="0.45"/><circle cx="339.3" cy="248.4" r="0.45"/><circle cx="340.5" cy="260.0" r="0.45"/><circle cx="312.0" cy="238.8" r="0.45"/><circle cx="315.2" cy="267.0" r="0.45"/><circle cx="335.4" cy="261.3" r="0.45"/><circle cx="339.7" cy="270.6" r="0.45"/><circle cx="308.7" cy="260.7" r="0.45"/><circle cx="325.2" cy="250.4" r="0.45"/><circle cx="328.9" cy="262.6" r="0.45"/><circle cx="332.5" cy="248.0" r="0.45"/><circle cx="329.7" cy="286.2" r="0.45"/><circle cx="322.3" cy="245.4" r="0.45"/><circle cx="339.6" cy="270.6" r="0.45"/><circle cx="342.0" cy="251.7" r="0.45"/><circle cx="349.0" cy="255.4" r="0.45"/><circle cx="321.2" cy="257.3" r="0.45"/><circle cx="334.6" cy="271.9" r="0.45"/><circle cx="344.1" cy="263.8" r="0.45"/><circle cx="348.1" cy="264.9" r="0.45"/><circle cx="347.6" cy="248.6" r="0.45"/><circle cx="315.5" cy="272.5" r="0.45"/><circle cx="317.9" cy="260.7" r="0.45"/><circle cx="334.7" cy="258.6" r="0.45"/><circle cx="330.1" cy="279.3" r="0.45"/><circle cx="303.1" cy="273.7" r="0.45"/><circle cx="365.8" cy="264.3" r="0.45"/><circle cx="335.8" cy="272.0" r="0.45"/><circle cx="359.8" cy="250.9" r="0.45"/><circle cx="337.1" cy="262.0" r="0.45"/><circle cx="343.3" cy="265.8" r="0.45"/><circle cx="344.6" cy="259.4" r="0.45"/><circle cx="336.6" cy="256.6" r="0.45"/></g>
<g fill="#000" fill-opacity="0.09" filter="url(#bl)"><circle cx="319.4" cy="280.2" r="0.45"/><circle cx="327.7" cy="274.0" r="0.45"/><circle cx="355.1" cy="280.2" r="0.45"/><circle cx="307.9" cy="287.6" r="0.45"/><circle cx="318.0" cy="284.0" r="0.45"/><circle cx="329.7" cy="282.5" r="0.45"/><circle cx="332.7" cy="277.5" r="0.45"/><circle cx="337.0" cy="274.7" r="0.45"/><circle cx="338.6" cy="281.5" r="0.45"/><circle cx="337.6" cy="284.8" r="0.45"/><circle cx="348.9" cy="283.6" r="0.45"/><circle cx="332.3" cy="282.1" r="0.45"/><circle cx="351.6" cy="285.9" r="0.45"/><circle cx="314.0" cy="277.2" r="0.45"/><circle cx="335.3" cy="277.3" r="0.45"/><circle cx="324.0" cy="275.3" r="0.45"/><circle cx="325.8" cy="283.5" r="0.45"/><circle cx="345.9" cy="281.1" r="0.45"/><circle cx="363.2" cy="280.5" r="0.45"/><circle cx="381.1" cy="287.0" r="0.45"/><circle cx="337.9" cy="278.0" r="0.45"/><circle cx="326.0" cy="285.3" r="0.45"/><circle cx="324.5" cy="285.1" r="0.45"/><circle cx="331.5" cy="274.1" r="0.45"/><circle cx="345.2" cy="285.2" r="0.45"/><circle cx="339.5" cy="287.1" r="0.45"/><circle cx="347.6" cy="280.9" r="0.45"/><circle cx="308.3" cy="272.7" r="0.45"/><circle cx="351.6" cy="285.3" r="0.45"/><circle cx="331.6" cy="278.4" r="0.45"/><circle cx="330.5" cy="281.1" r="0.45"/><circle cx="324.6" cy="276.8" r="0.45"/><circle cx="364.6" cy="282.4" r="0.45"/><circle cx="320.3" cy="273.2" r="0.45"/><circle cx="318.4" cy="285.3" r="0.45"/><circle cx="342.1" cy="279.7" r="0.45"/><circle cx="330.8" cy="279.2" r="0.45"/><circle cx="317.9" cy="280.2" r="0.45"/><circle cx="344.1" cy="279.5" r="0.45"/><circle cx="307.8" cy="275.3" r="0.45"/><circle cx="331.6" cy="283.1" r="0.45"/><circle cx="328.5" cy="287.0" r="0.45"/><circle cx="345.9" cy="282.9" r="0.45"/><circle cx="330.4" cy="279.5" r="0.45"/><circle cx="338.8" cy="286.5" r="0.45"/><circle cx="331.0" cy="283.7" r="0.45"/><circle cx="324.8" cy="272.5" r="0.45"/><circle cx="314.0" cy="285.6" r="0.45"/><circle cx="330.9" cy="286.2" r="0.45"/><circle cx="351.2" cy="287.0" r="0.45"/><circle cx="320.3" cy="279.9" r="0.45"/><circle cx="332.1" cy="275.1" r="0.45"/><circle cx="337.6" cy="287.1" r="0.45"/><circle cx="325.3" cy="279.8" r="0.45"/><circle cx="326.2" cy="276.8" r="0.45"/><circle cx="336.7" cy="281.1" r="0.45"/><circle cx="356.6" cy="284.6" r="0.45"/><circle cx="338.6" cy="279.7" r="0.45"/><circle cx="307.4" cy="280.5" r="0.45"/><circle cx="316.4" cy="286.7" r="0.45"/><circle cx="341.8" cy="286.0" r="0.45"/><circle cx="333.7" cy="282.3" r="0.45"/><circle cx="340.5" cy="286.5" r="0.45"/><circle cx="318.6" cy="284.0" r="0.45"/><circle cx="371.9" cy="280.5" r="0.45"/><circle cx="325.9" cy="276.8" r="0.45"/><circle cx="306.8" cy="288.1" r="0.45"/><circle cx="331.0" cy="282.8" r="0.45"/><circle cx="315.8" cy="287.3" r="0.45"/><circle cx="340.0" cy="283.4" r="0.45"/><circle cx="337.7" cy="280.9" r="0.45"/><circle cx="355.5" cy="284.7" r="0.45"/><circle cx="344.4" cy="283.8" r="0.45"/><circle cx="338.2" cy="280.5" r="0.45"/><circle cx="316.3" cy="279.0" r="0.45"/><circle cx="313.2" cy="281.7" r="0.45"/><circle cx="334.2" cy="268.7" r="0.45"/><circle cx="330.3" cy="284.9" r="0.45"/><circle cx="332.7" cy="275.3" r="0.45"/><circle cx="350.3" cy="276.8" r="0.45"/><circle cx="310.4" cy="274.5" r="0.45"/><circle cx="329.8" cy="286.9" r="0.45"/><circle cx="348.7" cy="282.3" r="0.45"/><circle cx="310.9" cy="277.1" r="0.45"/></g>
<ellipse cx="338" cy="259" rx="10" ry="6" fill="#000" fill-opacity="0.1" filter="url(#bl2)" transform="rotate(15,338,259)"/>
<g fill="#000" fill-opacity="0.14" filter="url(#bl)"><circle cx="331.6" cy="257.3" r="0.55"/><circle cx="326.4" cy="258.3" r="0.55"/><circle cx="340.9" cy="256.9" r="0.55"/><circle cx="339.8" cy="254.9" r="0.55"/><circle cx="328.3" cy="256.2" r="0.55"/><circle cx="343.9" cy="260.0" r="0.55"/><circle cx="334.3" cy="260.9" r="0.55"/><circle cx="335.1" cy="261.7" r="0.55"/><circle cx="339.9" cy="256.2" r="0.55"/><circle cx="341.8" cy="255.2" r="0.55"/><circle cx="331.4" cy="253.9" r="0.55"/><circle cx="338.6" cy="257.3" r="0.55"/><circle cx="336.5" cy="256.4" r="0.55"/><circle cx="345.6" cy="256.0" r="0.55"/><circle cx="332.7" cy="261.0" r="0.55"/><circle cx="345.5" cy="258.0" r="0.55"/><circle cx="326.6" cy="256.4" r="0.55"/><circle cx="340.7" cy="257.4" r="0.55"/><circle cx="346.3" cy="253.4" r="0.55"/><circle cx="341.1" cy="255.6" r="0.55"/><circle cx="344.9" cy="256.9" r="0.55"/><circle cx="343.2" cy="255.5" r="0.55"/><circle cx="328.5" cy="254.9" r="0.55"/><circle cx="333.4" cy="254.9" r="0.55"/><circle cx="344.2" cy="260.8" r="0.55"/><circle cx="338.6" cy="254.6" r="0.55"/><circle cx="336.3" cy="255.7" r="0.55"/><circle cx="345.7" cy="258.0" r="0.55"/><circle cx="339.9" cy="256.3" r="0.55"/><circle cx="324.9" cy="256.0" r="0.55"/><circle cx="330.3" cy="258.8" r="0.55"/><circle cx="337.6" cy="255.3" r="0.55"/><circle cx="334.7" cy="261.8" r="0.55"/><circle cx="331.2" cy="255.3" r="0.55"/><circle cx="335.6" cy="255.7" r="0.55"/><circle cx="334.4" cy="259.0" r="0.55"/><circle cx="347.4" cy="252.3" r="0.55"/><circle cx="336.9" cy="257.6" r="0.55"/><circle cx="336.5" cy="257.0" r="0.55"/><circle cx="335.0" cy="260.3" r="0.55"/><circle cx="334.2" cy="257.3" r="0.55"/><circle cx="337.0" cy="257.8" r="0.55"/><circle cx="336.0" cy="260.2" r="0.55"/><circle cx="336.9" cy="258.0" r="0.55"/><circle cx="336.7" cy="254.8" r="0.55"/><circle cx="332.0" cy="254.9" r="0.55"/><circle cx="338.2" cy="255.5" r="0.55"/><circle cx="330.6" cy="258.4" r="0.55"/><circle cx="340.2" cy="252.6" r="0.55"/><circle cx="347.1" cy="257.1" r="0.55"/><circle cx="336.4" cy="260.4" r="0.55"/><circle cx="337.4" cy="255.9" r="0.55"/><circle cx="350.2" cy="254.0" r="0.55"/><circle cx="336.4" cy="259.8" r="0.55"/><circle cx="330.6" cy="257.5" r="0.55"/><circle cx="339.3" cy="263.8" r="0.55"/><circle cx="331.6" cy="257.6" r="0.55"/><circle cx="341.0" cy="257.5" r="0.55"/><circle cx="329.8" cy="258.9" r="0.55"/><circle cx="337.6" cy="258.7" r="0.55"/><circle cx="343.8" cy="259.9" r="0.55"/><circle cx="339.4" cy="258.2" r="0.55"/><circle cx="330.4" cy="257.4" r="0.55"/><circle cx="338.3" cy="256.4" r="0.55"/><circle cx="337.6" cy="255.3" r="0.55"/><circle cx="346.2" cy="262.9" r="0.55"/><circle cx="334.7" cy="258.7" r="0.55"/><circle cx="335.6" cy="261.0" r="0.55"/><circle cx="339.6" cy="257.6" r="0.55"/><circle cx="335.7" cy="257.9" r="0.55"/><circle cx="331.0" cy="259.6" r="0.55"/><circle cx="332.7" cy="259.1" r="0.55"/><circle cx="337.8" cy="260.4" r="0.55"/><circle cx="336.9" cy="260.3" r="0.55"/><circle cx="331.5" cy="259.4" r="0.55"/><circle cx="335.7" cy="258.1" r="0.55"/><circle cx="337.4" cy="260.0" r="0.55"/><circle cx="324.9" cy="258.9" r="0.55"/><circle cx="328.0" cy="261.1" r="0.55"/><circle cx="325.2" cy="255.3" r="0.55"/><circle cx="327.0" cy="262.4" r="0.55"/><circle cx="329.3" cy="258.2" r="0.55"/><circle cx="333.8" cy="252.8" r="0.55"/><circle cx="335.0" cy="259.4" r="0.55"/><circle cx="335.9" cy="260.1" r="0.55"/><circle cx="334.8" cy="257.6" r="0.55"/><circle cx="334.7" cy="258.5" r="0.55"/><circle cx="348.4" cy="258.0" r="0.55"/><circle cx="338.2" cy="255.8" r="0.55"/><circle cx="332.5" cy="261.6" r="0.55"/><circle cx="330.3" cy="255.3" r="0.55"/><circle cx="336.4" cy="256.4" r="0.55"/><circle cx="348.7" cy="250.6" r="0.55"/><circle cx="339.2" cy="259.3" r="0.55"/><circle cx="330.3" cy="256.1" r="0.55"/><circle cx="339.6" cy="261.8" r="0.55"/><circle cx="331.5" cy="253.5" r="0.55"/><circle cx="342.8" cy="261.3" r="0.55"/><circle cx="335.0" cy="251.6" r="0.55"/><circle cx="345.7" cy="256.6" r="0.55"/><circle cx="343.7" cy="257.1" r="0.55"/><circle cx="334.7" cy="256.4" r="0.55"/><circle cx="345.8" cy="261.0" r="0.55"/><circle cx="324.2" cy="255.6" r="0.55"/><circle cx="347.7" cy="256.0" r="0.55"/><circle cx="328.8" cy="257.9" r="0.55"/><circle cx="336.3" cy="257.3" r="0.55"/><circle cx="334.1" cy="256.8" r="0.55"/><circle cx="334.3" cy="258.5" r="0.55"/><circle cx="332.1" cy="256.9" r="0.55"/><circle cx="336.1" cy="261.0" r="0.55"/><circle cx="339.2" cy="257.1" r="0.55"/><circle cx="340.2" cy="258.4" r="0.55"/><circle cx="343.5" cy="258.6" r="0.55"/><circle cx="347.8" cy="260.6" r="0.55"/><circle cx="336.8" cy="256.4" r="0.55"/><circle cx="342.3" cy="258.6" r="0.55"/><circle cx="336.4" cy="253.6" r="0.55"/><circle cx="326.0" cy="258.9" r="0.55"/><circle cx="341.6" cy="259.5" r="0.55"/><circle cx="329.3" cy="260.6" r="0.55"/><circle cx="333.8" cy="258.7" r="0.55"/><circle cx="339.5" cy="255.2" r="0.55"/><circle cx="333.5" cy="252.1" r="0.55"/><circle cx="331.5" cy="252.9" r="0.55"/><circle cx="339.6" cy="257.5" r="0.55"/><circle cx="342.5" cy="258.2" r="0.55"/><circle cx="333.2" cy="258.6" r="0.55"/><circle cx="334.7" cy="259.2" r="0.55"/><circle cx="338.9" cy="254.8" r="0.55"/><circle cx="337.0" cy="257.6" r="0.55"/><circle cx="335.2" cy="260.0" r="0.55"/><circle cx="347.3" cy="256.0" r="0.55"/><circle cx="334.9" cy="251.6" r="0.55"/><circle cx="336.2" cy="256.4" r="0.55"/><circle cx="324.0" cy="258.9" r="0.55"/><circle cx="340.5" cy="255.4" r="0.55"/><circle cx="334.8" cy="255.0" r="0.55"/><circle cx="341.6" cy="253.2" r="0.55"/><circle cx="335.1" cy="262.8" r="0.55"/><circle cx="337.3" cy="258.7" r="0.55"/><circle cx="336.1" cy="254.4" r="0.55"/><circle cx="336.8" cy="258.6" r="0.55"/><circle cx="330.9" cy="258.7" r="0.55"/><circle cx="344.5" cy="260.0" r="0.55"/><circle cx="327.5" cy="255.3" r="0.55"/><circle cx="327.3" cy="260.8" r="0.55"/><circle cx="340.7" cy="259.2" r="0.55"/><circle cx="331.7" cy="254.6" r="0.55"/><circle cx="337.5" cy="257.8" r="0.55"/><circle cx="331.9" cy="258.1" r="0.55"/><circle cx="340.9" cy="257.9" r="0.55"/><circle cx="330.8" cy="252.1" r="0.55"/><circle cx="335.4" cy="258.0" r="0.55"/><circle cx="335.4" cy="256.4" r="0.55"/><circle cx="332.9" cy="259.6" r="0.55"/><circle cx="336.7" cy="257.8" r="0.55"/><circle cx="331.2" cy="256.1" r="0.55"/><circle cx="338.0" cy="254.8" r="0.55"/><circle cx="329.4" cy="257.0" r="0.55"/><circle cx="344.2" cy="257.7" r="0.55"/><circle cx="345.8" cy="256.8" r="0.55"/><circle cx="335.1" cy="253.8" r="0.55"/><circle cx="333.5" cy="261.5" r="0.55"/><circle cx="339.0" cy="259.4" r="0.55"/><circle cx="341.2" cy="257.3" r="0.55"/><circle cx="335.8" cy="257.9" r="0.55"/><circle cx="341.0" cy="258.5" r="0.55"/><circle cx="340.0" cy="257.8" r="0.55"/><circle cx="332.4" cy="257.0" r="0.55"/><circle cx="331.4" cy="260.5" r="0.55"/><circle cx="324.4" cy="257.5" r="0.55"/><circle cx="351.3" cy="255.9" r="0.55"/><circle cx="330.2" cy="257.8" r="0.55"/><circle cx="344.7" cy="256.7" r="0.55"/><circle cx="340.7" cy="257.6" r="0.55"/><circle cx="334.8" cy="266.1" r="0.55"/><circle cx="337.4" cy="256.0" r="0.55"/><circle cx="334.1" cy="258.7" r="0.55"/><circle cx="339.5" cy="259.5" r="0.55"/><circle cx="337.8" cy="253.6" r="0.55"/><circle cx="340.2" cy="256.5" r="0.55"/><circle cx="335.3" cy="253.6" r="0.55"/><circle cx="333.6" cy="255.7" r="0.55"/><circle cx="336.8" cy="253.6" r="0.55"/><circle cx="337.3" cy="257.8" r="0.55"/><circle cx="330.3" cy="256.1" r="0.55"/><circle cx="331.9" cy="260.2" r="0.55"/><circle cx="321.8" cy="257.3" r="0.55"/><circle cx="327.0" cy="256.8" r="0.55"/><circle cx="342.1" cy="255.6" r="0.55"/><circle cx="337.8" cy="255.2" r="0.55"/><circle cx="348.6" cy="259.4" r="0.55"/><circle cx="343.8" cy="253.6" r="0.55"/><circle cx="330.4" cy="260.7" r="0.55"/><circle cx="335.8" cy="256.9" r="0.55"/><circle cx="339.0" cy="254.0" r="0.55"/><circle cx="341.6" cy="257.3" r="0.55"/><circle cx="339.9" cy="255.6" r="0.55"/><circle cx="340.1" cy="255.5" r="0.55"/><circle cx="342.7" cy="260.3" r="0.55"/><circle cx="342.5" cy="258.6" r="0.55"/><circle cx="340.8" cy="250.1" r="0.55"/><circle cx="342.0" cy="256.5" r="0.55"/><circle cx="337.6" cy="256.7" r="0.55"/><circle cx="328.7" cy="256.4" r="0.55"/><circle cx="341.0" cy="261.1" r="0.55"/><circle cx="333.3" cy="255.2" r="0.55"/><circle cx="345.7" cy="254.7" r="0.55"/><circle cx="349.4" cy="257.1" r="0.55"/><circle cx="331.7" cy="260.4" r="0.55"/><circle cx="347.2" cy="253.2" r="0.55"/><circle cx="346.4" cy="256.3" r="0.55"/><circle cx="345.9" cy="256.1" r="0.55"/><circle cx="327.5" cy="259.3" r="0.55"/><circle cx="342.6" cy="262.9" r="0.55"/><circle cx="347.3" cy="258.9" r="0.55"/><circle cx="335.6" cy="256.2" r="0.55"/><circle cx="335.2" cy="255.3" r="0.55"/><circle cx="335.4" cy="250.7" r="0.55"/><circle cx="338.1" cy="257.4" r="0.55"/><circle cx="352.4" cy="258.8" r="0.55"/><circle cx="334.1" cy="259.1" r="0.55"/><circle cx="329.6" cy="256.2" r="0.55"/><circle cx="325.8" cy="261.9" r="0.55"/><circle cx="340.6" cy="254.2" r="0.55"/><circle cx="336.6" cy="260.1" r="0.55"/><circle cx="340.0" cy="258.4" r="0.55"/><circle cx="331.9" cy="256.0" r="0.55"/><circle cx="337.6" cy="259.9" r="0.55"/><circle cx="332.0" cy="254.7" r="0.55"/><circle cx="343.9" cy="254.7" r="0.55"/><circle cx="343.5" cy="257.9" r="0.55"/><circle cx="342.3" cy="261.9" r="0.55"/><circle cx="341.1" cy="259.4" r="0.55"/><circle cx="331.5" cy="255.9" r="0.55"/><circle cx="340.9" cy="261.4" r="0.55"/><circle cx="345.4" cy="263.3" r="0.55"/><circle cx="338.9" cy="258.0" r="0.55"/><circle cx="343.0" cy="257.3" r="0.55"/><circle cx="336.6" cy="254.7" r="0.55"/><circle cx="342.9" cy="254.4" r="0.55"/><circle cx="340.1" cy="253.5" r="0.55"/><circle cx="343.6" cy="254.4" r="0.55"/><circle cx="342.1" cy="253.0" r="0.55"/><circle cx="334.4" cy="260.8" r="0.55"/><circle cx="332.2" cy="257.9" r="0.55"/><circle cx="334.1" cy="251.4" r="0.55"/><circle cx="338.8" cy="258.6" r="0.55"/><circle cx="330.4" cy="259.3" r="0.55"/><circle cx="332.2" cy="255.0" r="0.55"/><circle cx="337.0" cy="255.7" r="0.55"/><circle cx="350.8" cy="252.7" r="0.55"/><circle cx="341.4" cy="260.0" r="0.55"/><circle cx="325.1" cy="253.4" r="0.55"/><circle cx="340.4" cy="256.1" r="0.55"/><circle cx="339.3" cy="260.5" r="0.55"/><circle cx="334.8" cy="254.7" r="0.55"/><circle cx="320.6" cy="258.8" r="0.55"/><circle cx="331.4" cy="258.6" r="0.55"/><circle cx="338.4" cy="253.7" r="0.55"/><circle cx="347.3" cy="259.9" r="0.55"/><circle cx="342.1" cy="254.1" r="0.55"/><circle cx="334.6" cy="256.1" r="0.55"/><circle cx="334.5" cy="254.6" r="0.55"/><circle cx="339.6" cy="258.0" r="0.55"/><circle cx="339.2" cy="256.0" r="0.55"/><circle cx="344.7" cy="257.7" r="0.55"/><circle cx="320.6" cy="256.5" r="0.55"/><circle cx="336.7" cy="260.1" r="0.55"/><circle cx="335.2" cy="256.9" r="0.55"/><circle cx="333.0" cy="259.5" r="0.55"/><circle cx="334.3" cy="256.0" r="0.55"/><circle cx="332.5" cy="259.2" r="0.55"/><circle cx="333.8" cy="253.1" r="0.55"/><circle cx="340.7" cy="255.4" r="0.55"/><circle cx="339.1" cy="258.4" r="0.55"/><circle cx="344.2" cy="260.0" r="0.55"/><circle cx="333.5" cy="257.2" r="0.55"/><circle cx="329.3" cy="262.4" r="0.55"/><circle cx="339.6" cy="261.1" r="0.55"/><circle cx="335.1" cy="252.1" r="0.55"/><circle cx="346.2" cy="257.3" r="0.55"/><circle cx="337.8" cy="257.6" r="0.55"/><circle cx="340.9" cy="258.8" r="0.55"/><circle cx="327.5" cy="260.8" r="0.55"/><circle cx="333.8" cy="256.4" r="0.55"/><circle cx="347.4" cy="259.5" r="0.55"/><circle cx="335.0" cy="252.6" r="0.55"/><circle cx="338.0" cy="258.9" r="0.55"/><circle cx="336.5" cy="254.2" r="0.55"/><circle cx="332.3" cy="254.3" r="0.55"/><circle cx="338.3" cy="259.6" r="0.55"/><circle cx="343.2" cy="255.3" r="0.55"/><circle cx="338.4" cy="258.9" r="0.55"/><circle cx="333.9" cy="257.2" r="0.55"/><circle cx="349.7" cy="257.5" r="0.55"/><circle cx="342.3" cy="256.1" r="0.55"/><circle cx="337.3" cy="252.9" r="0.55"/><circle cx="336.8" cy="260.7" r="0.55"/><circle cx="349.6" cy="260.1" r="0.55"/><circle cx="341.1" cy="257.5" r="0.55"/><circle cx="333.4" cy="257.2" r="0.55"/><circle cx="340.7" cy="255.2" r="0.55"/><circle cx="342.6" cy="254.6" r="0.55"/><circle cx="326.3" cy="255.3" r="0.55"/><circle cx="327.0" cy="254.3" r="0.55"/><circle cx="343.8" cy="256.7" r="0.55"/><circle cx="338.3" cy="260.6" r="0.55"/><circle cx="344.6" cy="255.8" r="0.55"/><circle cx="345.0" cy="258.2" r="0.55"/><circle cx="337.0" cy="258.7" r="0.55"/><circle cx="328.4" cy="255.8" r="0.55"/><circle cx="336.4" cy="259.2" r="0.55"/><circle cx="334.8" cy="257.3" r="0.55"/><circle cx="342.8" cy="261.0" r="0.55"/><circle cx="341.6" cy="260.7" r="0.55"/><circle cx="334.6" cy="256.8" r="0.55"/><circle cx="338.9" cy="256.6" r="0.55"/><circle cx="334.0" cy="262.1" r="0.55"/><circle cx="335.8" cy="255.0" r="0.55"/><circle cx="339.9" cy="262.3" r="0.55"/><circle cx="337.5" cy="260.8" r="0.55"/><circle cx="334.4" cy="256.3" r="0.55"/><circle cx="332.9" cy="257.3" r="0.55"/><circle cx="348.0" cy="253.9" r="0.55"/><circle cx="346.8" cy="254.3" r="0.55"/><circle cx="335.6" cy="259.8" r="0.55"/><circle cx="340.8" cy="258.1" r="0.55"/><circle cx="327.1" cy="258.9" r="0.55"/><circle cx="330.9" cy="264.7" r="0.55"/><circle cx="335.7" cy="258.1" r="0.55"/><circle cx="330.1" cy="256.5" r="0.55"/><circle cx="329.3" cy="260.5" r="0.55"/><circle cx="335.4" cy="259.1" r="0.55"/><circle cx="332.9" cy="256.3" r="0.55"/><circle cx="344.7" cy="254.5" r="0.55"/><circle cx="326.2" cy="259.1" r="0.55"/><circle cx="330.2" cy="256.6" r="0.55"/><circle cx="342.5" cy="255.1" r="0.55"/><circle cx="342.3" cy="255.4" r="0.55"/><circle cx="345.9" cy="260.7" r="0.55"/><circle cx="334.2" cy="257.1" r="0.55"/><circle cx="332.0" cy="258.3" r="0.55"/><circle cx="343.9" cy="253.3" r="0.55"/><circle cx="342.5" cy="253.7" r="0.55"/><circle cx="331.8" cy="252.9" r="0.55"/><circle cx="349.6" cy="257.1" r="0.55"/><circle cx="338.5" cy="255.6" r="0.55"/><circle cx="343.4" cy="251.6" r="0.55"/><circle cx="337.2" cy="263.4" r="0.55"/><circle cx="334.7" cy="257.6" r="0.55"/><circle cx="341.0" cy="255.1" r="0.55"/><circle cx="337.1" cy="260.1" r="0.55"/><circle cx="338.2" cy="258.4" r="0.55"/><circle cx="334.9" cy="258.4" r="0.55"/><circle cx="337.3" cy="261.4" r="0.55"/><circle cx="341.3" cy="256.6" r="0.55"/><circle cx="322.3" cy="260.1" r="0.55"/><circle cx="341.5" cy="254.8" r="0.55"/><circle cx="325.0" cy="255.0" r="0.55"/><circle cx="342.6" cy="254.4" r="0.55"/><circle cx="334.2" cy="258.2" r="0.55"/><circle cx="344.3" cy="257.1" r="0.55"/><circle cx="336.4" cy="256.1" r="0.55"/><circle cx="346.8" cy="259.9" r="0.55"/><circle cx="336.4" cy="253.8" r="0.55"/><circle cx="332.3" cy="259.3" r="0.55"/><circle cx="332.7" cy="260.1" r="0.55"/><circle cx="339.2" cy="258.2" r="0.55"/><circle cx="340.9" cy="258.7" r="0.55"/><circle cx="331.9" cy="256.9" r="0.55"/><circle cx="351.0" cy="253.6" r="0.55"/><circle cx="334.2" cy="260.5" r="0.55"/><circle cx="336.0" cy="255.4" r="0.55"/><circle cx="329.1" cy="259.3" r="0.55"/><circle cx="343.1" cy="261.0" r="0.55"/><circle cx="337.3" cy="260.3" r="0.55"/><circle cx="330.8" cy="258.2" r="0.55"/><circle cx="332.9" cy="258.1" r="0.55"/><circle cx="341.5" cy="260.2" r="0.55"/><circle cx="331.1" cy="261.2" r="0.55"/><circle cx="334.2" cy="254.9" r="0.55"/><circle cx="336.0" cy="253.6" r="0.55"/><circle cx="337.0" cy="258.3" r="0.55"/><circle cx="335.8" cy="259.0" r="0.55"/><circle cx="335.1" cy="257.6" r="0.55"/><circle cx="328.4" cy="258.0" r="0.55"/><circle cx="331.9" cy="256.5" r="0.55"/><circle cx="336.4" cy="258.0" r="0.55"/><circle cx="327.1" cy="253.7" r="0.55"/><circle cx="335.2" cy="258.9" r="0.55"/><circle cx="339.2" cy="259.8" r="0.55"/><circle cx="344.8" cy="258.5" r="0.55"/><circle cx="336.9" cy="254.7" r="0.55"/><circle cx="331.3" cy="256.5" r="0.55"/><circle cx="338.6" cy="258.0" r="0.55"/><circle cx="337.0" cy="257.1" r="0.55"/><circle cx="340.8" cy="257.9" r="0.55"/><circle cx="338.8" cy="258.2" r="0.55"/><circle cx="333.7" cy="254.9" r="0.55"/><circle cx="339.9" cy="258.5" r="0.55"/><circle cx="335.7" cy="256.4" r="0.55"/><circle cx="350.7" cy="254.8" r="0.55"/><circle cx="335.7" cy="258.3" r="0.55"/><circle cx="330.1" cy="258.1" r="0.55"/><circle cx="347.8" cy="259.5" r="0.55"/><circle cx="340.8" cy="258.9" r="0.55"/><circle cx="337.7" cy="260.0" r="0.55"/><circle cx="336.1" cy="256.4" r="0.55"/><circle cx="337.6" cy="259.9" r="0.55"/><circle cx="339.0" cy="259.2" r="0.55"/><circle cx="324.9" cy="261.3" r="0.55"/><circle cx="351.0" cy="260.5" r="0.55"/><circle cx="335.1" cy="255.3" r="0.55"/><circle cx="338.7" cy="254.8" r="0.55"/><circle cx="341.4" cy="255.9" r="0.55"/><circle cx="342.8" cy="260.9" r="0.55"/><circle cx="324.8" cy="258.8" r="0.55"/><circle cx="332.8" cy="253.9" r="0.55"/></g>
<ellipse cx="338" cy="257.3" rx="5" ry="2.3" fill="#000" fill-opacity="0.42" filter="url(#bl2)" transform="rotate(-8,338,257.3)"/>
</g>
<line x1="320.60" y1="211.80" x2="320.60" y2="289.30" stroke="#b4b4b4" stroke-width="0.9"/>
<line x1="297.00" y1="270.40" x2="388.50" y2="270.40" stroke="#bdbdbd" stroke-width="0.9"/>
<rect x="297" y="211.8" width="91.5" height="77.5" fill="none" stroke="#333" stroke-width="1.4"/>
<text x="315.6" y="204.8" font-family="'Liberation Serif', serif" font-size="7.6" font-weight="bold" text-anchor="start" fill="#000" textLength="47.4" lengthAdjust="spacingAndGlyphs" stroke="#000" stroke-width="0.18" >GMCSF/IFNλ</text>
<text x="338.0" y="209.8" font-family="'Liberation Sans', sans-serif" font-size="3.2" font-weight="normal" text-anchor="middle" fill="#111" textLength="27" lengthAdjust="spacingAndGlyphs" >D20 .dff 002</text>
<text x="293.7" y="294.2" font-family="'Liberation Sans', sans-serif" font-size="4.3" font-weight="normal" text-anchor="start" fill="#333" textLength="4.6" lengthAdjust="spacingAndGlyphs" >10</text>
<text x="298.4" y="292.2" font-family="'Liberation Sans', sans-serif" font-size="3.0" font-weight="normal" text-anchor="start" fill="#333" >0</text>
<text x="316.57" y="294.2" font-family="'Liberation Sans', sans-serif" font-size="4.3" font-weight="normal" text-anchor="start" fill="#333" textLength="4.6" lengthAdjust="spacingAndGlyphs" >10</text>
<text x="321.27" y="292.2" font-family="'Liberation Sans', sans-serif" font-size="3.0" font-weight="normal" text-anchor="start" fill="#333" >1</text>
<text x="339.45" y="294.2" font-family="'Liberation Sans', sans-serif" font-size="4.3" font-weight="normal" text-anchor="start" fill="#333" textLength="4.6" lengthAdjust="spacingAndGlyphs" >10</text>
<text x="344.15" y="292.2" font-family="'Liberation Sans', sans-serif" font-size="3.0" font-weight="normal" text-anchor="start" fill="#333" >2</text>
<text x="362.32" y="294.2" font-family="'Liberation Sans', sans-serif" font-size="4.3" font-weight="normal" text-anchor="start" fill="#333" textLength="4.6" lengthAdjust="spacingAndGlyphs" >10</text>
<text x="367.02" y="292.2" font-family="'Liberation Sans', sans-serif" font-size="3.0" font-weight="normal" text-anchor="start" fill="#333" >3</text>
<text x="385.2" y="294.2" font-family="'Liberation Sans', sans-serif" font-size="4.3" font-weight="normal" text-anchor="start" fill="#333" textLength="4.6" lengthAdjust="spacingAndGlyphs" >10</text>
<text x="389.9" y="292.2" font-family="'Liberation Sans', sans-serif" font-size="3.0" font-weight="normal" text-anchor="start" fill="#333" >4</text>
<text x="336" y="298.2" font-family="'Liberation Sans', sans-serif" font-size="3.0" font-weight="normal" text-anchor="start" fill="#333" textLength="12.6" lengthAdjust="spacingAndGlyphs" >FL4-H</text>
<g transform="translate(294.4,292.1) rotate(-90)"><text x="0" y="0" font-family="'Liberation Sans', sans-serif" font-size="4.3" fill="#333" textLength="4.6" lengthAdjust="spacingAndGlyphs">10</text><text x="4.7" y="-2" font-family="'Liberation Sans', sans-serif" font-size="3.0" fill="#333">0</text></g>
<g transform="translate(294.4,272.725) rotate(-90)"><text x="0" y="0" font-family="'Liberation Sans', sans-serif" font-size="4.3" fill="#333" textLength="4.6" lengthAdjust="spacingAndGlyphs">10</text><text x="4.7" y="-2" font-family="'Liberation Sans', sans-serif" font-size="3.0" fill="#333">1</text></g>
<g transform="translate(294.4,253.35000000000002) rotate(-90)"><text x="0" y="0" font-family="'Liberation Sans', sans-serif" font-size="4.3" fill="#333" textLength="4.6" lengthAdjust="spacingAndGlyphs">10</text><text x="4.7" y="-2" font-family="'Liberation Sans', sans-serif" font-size="3.0" fill="#333">2</text></g>
<g transform="translate(294.4,233.97500000000002) rotate(-90)"><text x="0" y="0" font-family="'Liberation Sans', sans-serif" font-size="4.3" fill="#333" textLength="4.6" lengthAdjust="spacingAndGlyphs">10</text><text x="4.7" y="-2" font-family="'Liberation Sans', sans-serif" font-size="3.0" fill="#333">3</text></g>
<g transform="translate(294.4,214.60000000000002) rotate(-90)"><text x="0" y="0" font-family="'Liberation Sans', sans-serif" font-size="4.3" fill="#333" textLength="4.6" lengthAdjust="spacingAndGlyphs">10</text><text x="4.7" y="-2" font-family="'Liberation Sans', sans-serif" font-size="3.0" fill="#333">4</text></g>
<clipPath id="cp3"><rect x="418" y="211.8" width="91.5" height="77.5"/></clipPath>
<g clip-path="url(#cp3)">
<g fill="#000" fill-opacity="0.11" filter="url(#bl)"><circle cx="456.0" cy="256.7" r="0.5"/><circle cx="466.7" cy="248.9" r="0.5"/><circle cx="466.8" cy="270.1" r="0.5"/><circle cx="463.9" cy="261.3" r="0.5"/><circle cx="459.9" cy="250.9" r="0.5"/><circle cx="463.5" cy="260.3" r="0.5"/><circle cx="464.8" cy="273.4" r="0.5"/><circle cx="464.7" cy="260.6" r="0.5"/><circle cx="470.2" cy="249.9" r="0.5"/><circle cx="452.6" cy="255.7" r="0.5"/><circle cx="455.7" cy="262.2" r="0.5"/><circle cx="457.9" cy="268.4" r="0.5"/><circle cx="469.9" cy="262.6" r="0.5"/><circle cx="457.5" cy="261.7" r="0.5"/><circle cx="465.3" cy="251.6" r="0.5"/><circle cx="462.3" cy="262.2" r="0.5"/><circle cx="461.4" cy="267.4" r="0.5"/><circle cx="467.9" cy="253.0" r="0.5"/><circle cx="460.8" cy="253.0" r="0.5"/><circle cx="463.8" cy="252.8" r="0.5"/><circle cx="466.0" cy="260.3" r="0.5"/><circle cx="466.3" cy="257.1" r="0.5"/><circle cx="450.5" cy="268.6" r="0.5"/><circle cx="458.9" cy="266.3" r="0.5"/><circle cx="462.8" cy="262.0" r="0.5"/><circle cx="471.9" cy="260.0" r="0.5"/><circle cx="469.1" cy="249.1" r="0.5"/><circle cx="465.7" cy="256.5" r="0.5"/><circle cx="459.1" cy="258.1" r="0.5"/><circle cx="462.3" cy="267.9" r="0.5"/><circle cx="448.0" cy="258.3" r="0.5"/><circle cx="455.3" cy="265.0" r="0.5"/><circle cx="457.2" cy="260.7" r="0.5"/><circle cx="457.4" cy="262.0" r="0.5"/><circle cx="466.6" cy="255.6" r="0.5"/><circle cx="460.3" cy="249.5" r="0.5"/><circle cx="462.0" cy="263.1" r="0.5"/><circle cx="456.4" cy="264.7" r="0.5"/><circle cx="446.5" cy="246.9" r="0.5"/><circle cx="451.0" cy="255.1" r="0.5"/><circle cx="460.1" cy="257.5" r="0.5"/><circle cx="459.6" cy="262.3" r="0.5"/><circle cx="456.9" cy="250.4" r="0.5"/><circle cx="451.9" cy="270.7" r="0.5"/><circle cx="444.7" cy="256.9" r="0.5"/><circle cx="469.5" cy="260.9" r="0.5"/><circle cx="454.6" cy="258.0" r="0.5"/><circle cx="465.6" cy="265.2" r="0.5"/><circle cx="454.2" cy="262.6" r="0.5"/><circle cx="461.6" cy="264.6" r="0.5"/><circle cx="469.0" cy="255.9" r="0.5"/><circle cx="450.6" cy="260.4" r="0.5"/><circle cx="471.5" cy="262.1" r="0.5"/><circle cx="461.5" cy="272.4" r="0.5"/><circle cx="453.2" cy="263.4" r="0.5"/><circle cx="456.3" cy="258.3" r="0.5"/><circle cx="460.6" cy="267.1" r="0.5"/><circle cx="453.9" cy="254.8" r="0.5"/><circle cx="449.6" cy="260.9" r="0.5"/><circle cx="457.0" cy="260.5" r="0.5"/><circle cx="453.0" cy="255.8" r="0.5"/><circle cx="466.8" cy="257.0" r="0.5"/><circle cx="464.1" cy="261.2" r="0.5"/><circle cx="457.7" cy="248.6" r="0.5"/><circle cx="466.4" cy="259.0" r="0.5"/><circle cx="466.4" cy="245.9" r="0.5"/><circle cx="449.2" cy="245.1" r="0.5"/><circle cx="454.3" cy="264.3" r="0.5"/><circle cx="463.7" cy="257.8" r="0.5"/><circle cx="460.9" cy="262.6" r="0.5"/><circle cx="458.0" cy="260.4" r="0.5"/><circle cx="460.9" cy="244.9" r="0.5"/><circle cx="457.5" cy="266.2" r="0.5"/><circle cx="457.4" cy="257.1" r="0.5"/><circle cx="456.1" cy="255.1" r="0.5"/><circle cx="467.3" cy="256.4" r="0.5"/><circle cx="453.4" cy="239.3" r="0.5"/><circle cx="456.3" cy="246.2" r="0.5"/><circle cx="448.1" cy="262.8" r="0.5"/><circle cx="464.6" cy="246.5" r="0.5"/><circle cx="465.5" cy="260.8" r="0.5"/><circle cx="454.9" cy="262.4" r="0.5"/><circle cx="449.4" cy="250.8" r="0.5"/><circle cx="450.6" cy="251.3" r="0.5"/><circle cx="465.7" cy="250.0" r="0.5"/><circle cx="452.5" cy="252.3" r="0.5"/><circle cx="461.3" cy="256.0" r="0.5"/><circle cx="465.6" cy="253.7" r="0.5"/><circle cx="451.6" cy="255.0" r="0.5"/><circle cx="460.2" cy="252.4" r="0.5"/><circle cx="461.8" cy="268.9" r="0.5"/><circle cx="456.2" cy="258.2" r="0.5"/><circle cx="468.7" cy="254.1" r="0.5"/><circle cx="454.4" cy="251.4" r="0.5"/><circle cx="462.5" cy="261.0" r="0.5"/><circle cx="458.9" cy="258.2" r="0.5"/><circle cx="468.2" cy="263.1" r="0.5"/><circle cx="450.8" cy="257.8" r="0.5"/><circle cx="460.5" cy="262.2" r="0.5"/><circle cx="458.4" cy="254.0" r="0.5"/><circle cx="456.9" cy="247.2" r="0.5"/><circle cx="459.7" cy="254.3" r="0.5"/><circle cx="462.8" cy="251.7" r="0.5"/><circle cx="457.0" cy="251.9" r="0.5"/><circle cx="452.9" cy="262.0" r="0.5"/><circle cx="456.8" cy="260.5" r="0.5"/><circle cx="452.5" cy="258.4" r="0.5"/><circle cx="448.8" cy="254.9" r="0.5"/><circle cx="456.5" cy="261.3" r="0.5"/><circle cx="460.9" cy="256.7" r="0.5"/><circle cx="465.2" cy="258.9" r="0.5"/><circle cx="463.2" cy="262.3" r="0.5"/><circle cx="459.3" cy="256.0" r="0.5"/><circle cx="461.8" cy="255.2" r="0.5"/><circle cx="462.2" cy="264.4" r="0.5"/><circle cx="465.3" cy="255.4" r="0.5"/><circle cx="451.4" cy="257.4" r="0.5"/><circle cx="458.9" cy="264.4" r="0.5"/><circle cx="457.2" cy="256.5" r="0.5"/><circle cx="464.5" cy="254.9" r="0.5"/><circle cx="458.7" cy="268.0" r="0.5"/><circle cx="469.4" cy="261.5" r="0.5"/><circle cx="461.4" cy="251.9" r="0.5"/><circle cx="463.3" cy="258.1" r="0.5"/><circle cx="461.1" cy="254.6" r="0.5"/><circle cx="459.6" cy="256.6" r="0.5"/><circle cx="461.7" cy="266.3" r="0.5"/><circle cx="462.0" cy="247.8" r="0.5"/><circle cx="453.4" cy="248.2" r="0.5"/><circle cx="454.5" cy="261.1" r="0.5"/><circle cx="462.3" cy="254.1" r="0.5"/><circle cx="461.4" cy="253.2" r="0.5"/><circle cx="450.5" cy="249.3" r="0.5"/><circle cx="454.1" cy="266.2" r="0.5"/><circle cx="451.0" cy="265.2" r="0.5"/><circle cx="468.3" cy="256.6" r="0.5"/><circle cx="459.4" cy="254.0" r="0.5"/><circle cx="459.5" cy="261.6" r="0.5"/><circle cx="459.7" cy="263.7" r="0.5"/><circle cx="467.4" cy="259.8" r="0.5"/><circle cx="461.8" cy="257.3" r="0.5"/><circle cx="461.9" cy="251.0" r="0.5"/><circle cx="462.3" cy="258.9" r="0.5"/><circle cx="454.1" cy="270.6" r="0.5"/><circle cx="453.4" cy="252.5" r="0.5"/><circle cx="461.5" cy="246.1" r="0.5"/><circle cx="454.5" cy="248.6" r="0.5"/><circle cx="453.4" cy="256.9" r="0.5"/><circle cx="461.7" cy="264.3" r="0.5"/><circle cx="464.9" cy="264.8" r="0.5"/><circle cx="463.5" cy="254.9" r="0.5"/><circle cx="466.9" cy="254.8" r="0.5"/><circle cx="455.7" cy="266.8" r="0.5"/><circle cx="464.8" cy="259.0" r="0.5"/><circle cx="464.5" cy="262.9" r="0.5"/><circle cx="450.8" cy="257.1" r="0.5"/><circle cx="452.0" cy="258.4" r="0.5"/><circle cx="455.3" cy="265.8" r="0.5"/><circle cx="463.0" cy="252.8" r="0.5"/><circle cx="459.5" cy="250.4" r="0.5"/><circle cx="459.9" cy="260.9" r="0.5"/><circle cx="461.3" cy="246.1" r="0.5"/><circle cx="457.5" cy="260.7" r="0.5"/><circle cx="461.6" cy="264.6" r="0.5"/><circle cx="451.3" cy="260.8" r="0.5"/><circle cx="455.4" cy="258.8" r="0.5"/><circle cx="462.3" cy="261.8" r="0.5"/><circle cx="455.9" cy="258.8" r="0.5"/><circle cx="452.0" cy="249.2" r="0.5"/><circle cx="463.2" cy="257.3" r="0.5"/><circle cx="449.1" cy="252.6" r="0.5"/><circle cx="459.7" cy="267.0" r="0.5"/><circle cx="466.4" cy="262.4" r="0.5"/><circle cx="448.0" cy="257.1" r="0.5"/><circle cx="462.7" cy="260.0" r="0.5"/><circle cx="462.3" cy="256.3" r="0.5"/><circle cx="471.0" cy="266.5" r="0.5"/><circle cx="459.0" cy="251.8" r="0.5"/><circle cx="473.0" cy="254.3" r="0.5"/><circle cx="467.4" cy="269.1" r="0.5"/><circle cx="453.5" cy="259.4" r="0.5"/><circle cx="457.4" cy="260.7" r="0.5"/><circle cx="461.7" cy="269.3" r="0.5"/><circle cx="463.5" cy="257.6" r="0.5"/><circle cx="466.9" cy="256.0" r="0.5"/><circle cx="457.2" cy="271.1" r="0.5"/><circle cx="454.3" cy="254.7" r="0.5"/><circle cx="459.9" cy="251.3" r="0.5"/><circle cx="445.9" cy="264.0" r="0.5"/><circle cx="454.5" cy="254.4" r="0.5"/><circle cx="457.2" cy="251.8" r="0.5"/><circle cx="452.6" cy="258.6" r="0.5"/><circle cx="475.2" cy="262.1" r="0.5"/><circle cx="464.5" cy="248.6" r="0.5"/><circle cx="459.5" cy="250.5" r="0.5"/><circle cx="464.6" cy="256.3" r="0.5"/><circle cx="459.9" cy="257.1" r="0.5"/><circle cx="455.8" cy="248.5" r="0.5"/><circle cx="463.4" cy="249.3" r="0.5"/><circle cx="451.9" cy="255.9" r="0.5"/><circle cx="455.0" cy="259.2" r="0.5"/><circle cx="466.2" cy="259.1" r="0.5"/><circle cx="460.9" cy="257.8" r="0.5"/><circle cx="465.2" cy="246.6" r="0.5"/><circle cx="462.0" cy="252.0" r="0.5"/><circle cx="451.6" cy="257.7" r="0.5"/><circle cx="457.1" cy="261.1" r="0.5"/><circle cx="466.8" cy="243.7" r="0.5"/><circle cx="459.1" cy="269.4" r="0.5"/><circle cx="465.3" cy="266.3" r="0.5"/><circle cx="460.3" cy="249.0" r="0.5"/><circle cx="452.3" cy="261.9" r="0.5"/><circle cx="465.8" cy="253.3" r="0.5"/><circle cx="457.9" cy="259.2" r="0.5"/><circle cx="448.2" cy="255.5" r="0.5"/><circle cx="470.1" cy="270.8" r="0.5"/><circle cx="458.9" cy="268.6" r="0.5"/><circle cx="456.2" cy="252.8" r="0.5"/><circle cx="445.1" cy="263.4" r="0.5"/><circle cx="457.2" cy="271.7" r="0.5"/><circle cx="461.8" cy="258.8" r="0.5"/><circle cx="447.9" cy="266.7" r="0.5"/><circle cx="457.3" cy="256.7" r="0.5"/><circle cx="445.3" cy="263.2" r="0.5"/><circle cx="466.1" cy="254.0" r="0.5"/><circle cx="460.2" cy="260.0" r="0.5"/><circle cx="465.9" cy="258.3" r="0.5"/><circle cx="470.8" cy="256.2" r="0.5"/><circle cx="455.7" cy="254.9" r="0.5"/><circle cx="443.1" cy="252.8" r="0.5"/><circle cx="466.2" cy="259.3" r="0.5"/><circle cx="454.3" cy="259.8" r="0.5"/><circle cx="446.5" cy="256.0" r="0.5"/><circle cx="463.1" cy="261.9" r="0.5"/><circle cx="454.6" cy="263.1" r="0.5"/><circle cx="471.8" cy="255.1" r="0.5"/><circle cx="464.5" cy="248.3" r="0.5"/><circle cx="446.9" cy="261.4" r="0.5"/><circle cx="459.9" cy="258.9" r="0.5"/><circle cx="455.9" cy="255.9" r="0.5"/><circle cx="464.9" cy="268.0" r="0.5"/><circle cx="458.3" cy="247.8" r="0.5"/><circle cx="467.9" cy="261.3" r="0.5"/><circle cx="464.1" cy="258.8" r="0.5"/><circle cx="474.8" cy="258.1" r="0.5"/><circle cx="463.0" cy="246.6" r="0.5"/><circle cx="455.9" cy="253.6" r="0.5"/><circle cx="459.5" cy="259.8" r="0.5"/><circle cx="454.8" cy="268.1" r="0.5"/><circle cx="452.7" cy="255.0" r="0.5"/><circle cx="461.2" cy="250.2" r="0.5"/><circle cx="463.4" cy="261.5" r="0.5"/><circle cx="457.8" cy="269.2" r="0.5"/><circle cx="460.2" cy="259.4" r="0.5"/><circle cx="453.4" cy="247.6" r="0.5"/><circle cx="455.6" cy="255.8" r="0.5"/><circle cx="456.7" cy="262.3" r="0.5"/><circle cx="444.1" cy="250.9" r="0.5"/><circle cx="447.8" cy="265.7" r="0.5"/><circle cx="456.0" cy="254.6" r="0.5"/></g>
<g fill="#000" fill-opacity="0.08" filter="url(#bl)"><circle cx="438.2" cy="286.1" r="0.5"/><circle cx="446.4" cy="282.0" r="0.5"/><circle cx="427.0" cy="287.7" r="0.5"/><circle cx="456.1" cy="284.0" r="0.5"/><circle cx="466.2" cy="279.5" r="0.5"/><circle cx="449.4" cy="285.0" r="0.5"/><circle cx="456.5" cy="279.2" r="0.5"/><circle cx="451.9" cy="277.7" r="0.5"/><circle cx="460.0" cy="286.3" r="0.5"/><circle cx="432.9" cy="279.3" r="0.5"/><circle cx="472.0" cy="278.2" r="0.5"/><circle cx="458.0" cy="273.5" r="0.5"/><circle cx="460.7" cy="274.6" r="0.5"/><circle cx="435.3" cy="279.8" r="0.5"/><circle cx="445.6" cy="274.1" r="0.5"/><circle cx="447.0" cy="274.7" r="0.5"/><circle cx="452.1" cy="280.6" r="0.5"/><circle cx="460.4" cy="278.0" r="0.5"/><circle cx="435.4" cy="272.8" r="0.5"/><circle cx="461.6" cy="276.9" r="0.5"/><circle cx="462.8" cy="273.7" r="0.5"/><circle cx="463.6" cy="278.4" r="0.5"/><circle cx="460.7" cy="284.5" r="0.5"/><circle cx="448.1" cy="282.7" r="0.5"/><circle cx="438.6" cy="280.3" r="0.5"/><circle cx="459.9" cy="281.2" r="0.5"/><circle cx="439.3" cy="287.1" r="0.5"/><circle cx="431.5" cy="275.9" r="0.5"/><circle cx="455.8" cy="273.5" r="0.5"/><circle cx="470.0" cy="287.3" r="0.5"/><circle cx="444.6" cy="277.4" r="0.5"/><circle cx="435.6" cy="272.3" r="0.5"/><circle cx="456.8" cy="284.5" r="0.5"/><circle cx="455.7" cy="282.3" r="0.5"/><circle cx="444.7" cy="282.9" r="0.5"/><circle cx="433.7" cy="280.8" r="0.5"/><circle cx="445.9" cy="278.7" r="0.5"/><circle cx="433.4" cy="278.2" r="0.5"/><circle cx="454.3" cy="288.1" r="0.5"/><circle cx="441.4" cy="284.6" r="0.5"/><circle cx="456.6" cy="279.9" r="0.5"/><circle cx="447.4" cy="287.1" r="0.5"/><circle cx="459.6" cy="274.2" r="0.5"/><circle cx="454.1" cy="272.7" r="0.5"/><circle cx="442.4" cy="272.9" r="0.5"/><circle cx="435.5" cy="276.6" r="0.5"/><circle cx="439.7" cy="283.9" r="0.5"/><circle cx="461.1" cy="279.3" r="0.5"/><circle cx="438.0" cy="285.6" r="0.5"/><circle cx="427.1" cy="269.1" r="0.5"/><circle cx="460.2" cy="284.7" r="0.5"/><circle cx="463.2" cy="279.4" r="0.5"/><circle cx="436.3" cy="277.7" r="0.5"/><circle cx="458.3" cy="276.1" r="0.5"/><circle cx="443.0" cy="272.3" r="0.5"/><circle cx="437.4" cy="285.8" r="0.5"/><circle cx="456.9" cy="273.7" r="0.5"/><circle cx="438.4" cy="277.3" r="0.5"/><circle cx="458.1" cy="273.7" r="0.5"/><circle cx="449.4" cy="267.8" r="0.5"/><circle cx="436.3" cy="283.3" r="0.5"/><circle cx="462.3" cy="273.8" r="0.5"/><circle cx="442.1" cy="285.5" r="0.5"/><circle cx="446.8" cy="277.5" r="0.5"/><circle cx="457.7" cy="281.9" r="0.5"/><circle cx="464.9" cy="285.5" r="0.5"/><circle cx="444.5" cy="280.0" r="0.5"/><circle cx="450.7" cy="272.6" r="0.5"/><circle cx="439.7" cy="286.6" r="0.5"/><circle cx="432.4" cy="286.7" r="0.5"/><circle cx="454.9" cy="279.9" r="0.5"/><circle cx="458.0" cy="283.6" r="0.5"/><circle cx="466.0" cy="278.3" r="0.5"/><circle cx="448.7" cy="279.3" r="0.5"/><circle cx="474.2" cy="286.4" r="0.5"/><circle cx="440.4" cy="278.7" r="0.5"/><circle cx="443.0" cy="280.8" r="0.5"/><circle cx="429.5" cy="286.9" r="0.5"/><circle cx="456.8" cy="276.5" r="0.5"/><circle cx="449.7" cy="277.8" r="0.5"/><circle cx="452.1" cy="286.8" r="0.5"/><circle cx="456.5" cy="288.2" r="0.5"/><circle cx="458.4" cy="287.3" r="0.5"/><circle cx="452.2" cy="275.8" r="0.5"/><circle cx="459.7" cy="285.1" r="0.5"/><circle cx="476.8" cy="268.7" r="0.5"/><circle cx="449.2" cy="287.2" r="0.5"/><circle cx="436.5" cy="279.4" r="0.5"/><circle cx="465.8" cy="285.5" r="0.5"/><circle cx="456.2" cy="282.2" r="0.5"/><circle cx="441.2" cy="277.7" r="0.5"/><circle cx="460.4" cy="281.7" r="0.5"/><circle cx="473.9" cy="278.8" r="0.5"/><circle cx="422.8" cy="278.8" r="0.5"/><circle cx="455.0" cy="283.1" r="0.5"/><circle cx="452.5" cy="275.9" r="0.5"/><circle cx="469.6" cy="276.8" r="0.5"/><circle cx="460.2" cy="279.1" r="0.5"/><circle cx="421.5" cy="275.7" r="0.5"/><circle cx="456.9" cy="278.7" r="0.5"/><circle cx="460.7" cy="280.2" r="0.5"/><circle cx="449.1" cy="279.9" r="0.5"/><circle cx="438.7" cy="276.4" r="0.5"/><circle cx="459.5" cy="284.2" r="0.5"/><circle cx="451.8" cy="276.7" r="0.5"/><circle cx="460.0" cy="270.6" r="0.5"/><circle cx="447.7" cy="279.4" r="0.5"/><circle cx="441.6" cy="281.8" r="0.5"/><circle cx="443.8" cy="276.1" r="0.5"/><circle cx="473.4" cy="285.3" r="0.5"/><circle cx="466.2" cy="281.2" r="0.5"/><circle cx="463.4" cy="285.6" r="0.5"/><circle cx="449.1" cy="282.5" r="0.5"/><circle cx="451.2" cy="259.8" r="0.5"/><circle cx="435.1" cy="281.1" r="0.5"/><circle cx="459.5" cy="277.5" r="0.5"/><circle cx="473.0" cy="283.8" r="0.5"/><circle cx="450.0" cy="278.7" r="0.5"/><circle cx="453.4" cy="277.8" r="0.5"/><circle cx="464.8" cy="285.7" r="0.5"/><circle cx="466.6" cy="284.5" r="0.5"/><circle cx="442.5" cy="280.0" r="0.5"/><circle cx="462.5" cy="278.6" r="0.5"/><circle cx="487.0" cy="279.5" r="0.5"/><circle cx="445.0" cy="287.9" r="0.5"/><circle cx="461.0" cy="280.8" r="0.5"/><circle cx="449.2" cy="283.6" r="0.5"/><circle cx="462.0" cy="285.6" r="0.5"/><circle cx="448.4" cy="283.6" r="0.5"/><circle cx="462.1" cy="285.6" r="0.5"/><circle cx="442.7" cy="279.6" r="0.5"/><circle cx="454.1" cy="286.5" r="0.5"/><circle cx="459.4" cy="280.2" r="0.5"/><circle cx="444.6" cy="282.8" r="0.5"/><circle cx="470.8" cy="283.1" r="0.5"/><circle cx="427.5" cy="283.2" r="0.5"/><circle cx="447.4" cy="280.3" r="0.5"/><circle cx="464.6" cy="283.8" r="0.5"/><circle cx="448.8" cy="286.4" r="0.5"/><circle cx="457.2" cy="281.6" r="0.5"/><circle cx="455.6" cy="282.5" r="0.5"/><circle cx="447.9" cy="278.2" r="0.5"/><circle cx="452.3" cy="275.3" r="0.5"/><circle cx="449.1" cy="280.9" r="0.5"/><circle cx="450.4" cy="281.1" r="0.5"/><circle cx="452.3" cy="281.4" r="0.5"/><circle cx="442.3" cy="286.6" r="0.5"/><circle cx="443.7" cy="287.2" r="0.5"/><circle cx="429.0" cy="274.6" r="0.5"/><circle cx="463.9" cy="280.1" r="0.5"/><circle cx="443.9" cy="283.3" r="0.5"/><circle cx="439.5" cy="281.5" r="0.5"/><circle cx="425.4" cy="278.3" r="0.5"/><circle cx="444.2" cy="284.2" r="0.5"/><circle cx="462.5" cy="275.9" r="0.5"/><circle cx="471.3" cy="277.4" r="0.5"/><circle cx="427.3" cy="266.7" r="0.5"/><circle cx="470.5" cy="280.5" r="0.5"/><circle cx="444.2" cy="276.5" r="0.5"/><circle cx="449.6" cy="266.9" r="0.5"/><circle cx="462.1" cy="278.8" r="0.5"/><circle cx="448.8" cy="288.0" r="0.5"/><circle cx="451.9" cy="276.5" r="0.5"/><circle cx="458.1" cy="277.4" r="0.5"/><circle cx="466.7" cy="286.8" r="0.5"/><circle cx="452.8" cy="284.7" r="0.5"/><circle cx="458.8" cy="279.3" r="0.5"/><circle cx="462.7" cy="279.6" r="0.5"/><circle cx="459.4" cy="275.3" r="0.5"/><circle cx="453.2" cy="283.5" r="0.5"/><circle cx="442.5" cy="278.5" r="0.5"/><circle cx="445.6" cy="285.4" r="0.5"/><circle cx="443.4" cy="283.7" r="0.5"/><circle cx="470.3" cy="283.2" r="0.5"/><circle cx="432.7" cy="281.8" r="0.5"/><circle cx="464.6" cy="279.3" r="0.5"/><circle cx="465.4" cy="284.7" r="0.5"/><circle cx="457.1" cy="279.5" r="0.5"/><circle cx="445.9" cy="279.5" r="0.5"/><circle cx="452.9" cy="284.2" r="0.5"/><circle cx="457.2" cy="279.3" r="0.5"/><circle cx="452.9" cy="283.4" r="0.5"/><circle cx="432.6" cy="276.5" r="0.5"/><circle cx="442.6" cy="279.8" r="0.5"/><circle cx="448.8" cy="279.5" r="0.5"/><circle cx="441.7" cy="285.1" r="0.5"/><circle cx="455.5" cy="271.2" r="0.5"/><circle cx="452.3" cy="274.3" r="0.5"/><circle cx="472.6" cy="278.4" r="0.5"/><circle cx="447.5" cy="281.6" r="0.5"/><circle cx="449.8" cy="280.7" r="0.5"/><circle cx="470.8" cy="282.5" r="0.5"/><circle cx="462.2" cy="287.9" r="0.5"/><circle cx="460.5" cy="286.8" r="0.5"/><circle cx="441.8" cy="286.0" r="0.5"/><circle cx="457.2" cy="277.9" r="0.5"/><circle cx="479.6" cy="284.5" r="0.5"/><circle cx="449.3" cy="282.3" r="0.5"/><circle cx="463.1" cy="287.9" r="0.5"/><circle cx="469.9" cy="273.7" r="0.5"/><circle cx="446.4" cy="275.5" r="0.5"/><circle cx="460.1" cy="274.8" r="0.5"/><circle cx="448.7" cy="287.3" r="0.5"/><circle cx="445.9" cy="280.5" r="0.5"/><circle cx="455.9" cy="270.2" r="0.5"/><circle cx="461.6" cy="283.2" r="0.5"/><circle cx="459.1" cy="275.2" r="0.5"/><circle cx="443.0" cy="277.5" r="0.5"/><circle cx="455.2" cy="281.5" r="0.5"/><circle cx="467.9" cy="276.8" r="0.5"/><circle cx="471.4" cy="277.9" r="0.5"/><circle cx="449.0" cy="281.6" r="0.5"/><circle cx="441.9" cy="275.3" r="0.5"/><circle cx="447.4" cy="286.2" r="0.5"/><circle cx="446.9" cy="279.9" r="0.5"/><circle cx="446.7" cy="272.9" r="0.5"/><circle cx="470.1" cy="267.1" r="0.5"/><circle cx="444.4" cy="284.5" r="0.5"/><circle cx="435.5" cy="284.7" r="0.5"/><circle cx="467.3" cy="276.0" r="0.5"/><circle cx="454.7" cy="274.5" r="0.5"/><circle cx="458.3" cy="281.6" r="0.5"/><circle cx="459.8" cy="273.9" r="0.5"/><circle cx="455.4" cy="284.1" r="0.5"/><circle cx="453.0" cy="283.3" r="0.5"/><circle cx="441.5" cy="281.6" r="0.5"/><circle cx="455.8" cy="279.2" r="0.5"/></g>
<g fill="#000" fill-opacity="0.08" filter="url(#bl)"><circle cx="451.6" cy="235.6" r="0.45"/><circle cx="472.1" cy="249.7" r="0.45"/><circle cx="436.9" cy="272.9" r="0.45"/><circle cx="435.7" cy="269.2" r="0.45"/><circle cx="434.1" cy="274.5" r="0.45"/><circle cx="435.0" cy="273.3" r="0.45"/><circle cx="461.1" cy="242.9" r="0.45"/><circle cx="432.1" cy="248.9" r="0.45"/><circle cx="426.2" cy="255.0" r="0.45"/><circle cx="434.9" cy="245.0" r="0.45"/><circle cx="451.8" cy="272.9" r="0.45"/><circle cx="429.2" cy="257.4" r="0.45"/><circle cx="450.4" cy="262.0" r="0.45"/><circle cx="439.0" cy="276.5" r="0.45"/><circle cx="463.8" cy="274.7" r="0.45"/><circle cx="478.0" cy="259.5" r="0.45"/><circle cx="448.3" cy="281.8" r="0.45"/><circle cx="437.4" cy="270.7" r="0.45"/><circle cx="450.9" cy="255.3" r="0.45"/><circle cx="446.5" cy="243.1" r="0.45"/><circle cx="441.5" cy="237.2" r="0.45"/><circle cx="486.6" cy="286.2" r="0.45"/><circle cx="469.8" cy="269.4" r="0.45"/><circle cx="466.1" cy="282.9" r="0.45"/><circle cx="466.4" cy="278.0" r="0.45"/><circle cx="435.5" cy="271.1" r="0.45"/><circle cx="441.6" cy="248.6" r="0.45"/><circle cx="431.8" cy="271.1" r="0.45"/><circle cx="466.9" cy="245.9" r="0.45"/><circle cx="478.0" cy="285.6" r="0.45"/><circle cx="444.0" cy="258.6" r="0.45"/><circle cx="448.9" cy="278.8" r="0.45"/><circle cx="443.9" cy="249.6" r="0.45"/><circle cx="455.5" cy="236.1" r="0.45"/><circle cx="452.3" cy="281.3" r="0.45"/><circle cx="454.9" cy="275.9" r="0.45"/><circle cx="457.9" cy="275.2" r="0.45"/><circle cx="452.3" cy="253.4" r="0.45"/><circle cx="446.4" cy="264.0" r="0.45"/><circle cx="470.1" cy="287.8" r="0.45"/><circle cx="456.7" cy="254.5" r="0.45"/><circle cx="438.3" cy="262.4" r="0.45"/><circle cx="472.2" cy="269.7" r="0.45"/><circle cx="449.1" cy="254.3" r="0.45"/><circle cx="464.1" cy="269.1" r="0.45"/><circle cx="449.2" cy="266.4" r="0.45"/><circle cx="477.0" cy="262.8" r="0.45"/><circle cx="477.0" cy="282.4" r="0.45"/><circle cx="450.8" cy="277.4" r="0.45"/><circle cx="448.0" cy="253.4" r="0.45"/><circle cx="445.7" cy="252.3" r="0.45"/><circle cx="458.2" cy="265.2" r="0.45"/><circle cx="459.1" cy="276.6" r="0.45"/><circle cx="421.2" cy="267.3" r="0.45"/><circle cx="436.0" cy="266.5" r="0.45"/><circle cx="471.8" cy="241.1" r="0.45"/><circle cx="453.1" cy="263.9" r="0.45"/><circle cx="419.7" cy="274.1" r="0.45"/><circle cx="450.5" cy="257.9" r="0.45"/><circle cx="443.7" cy="239.8" r="0.45"/><circle cx="435.1" cy="259.9" r="0.45"/><circle cx="443.8" cy="263.9" r="0.45"/><circle cx="433.2" cy="272.6" r="0.45"/><circle cx="442.3" cy="245.9" r="0.45"/><circle cx="437.0" cy="259.6" r="0.45"/><circle cx="463.6" cy="271.8" r="0.45"/><circle cx="444.6" cy="265.3" r="0.45"/><circle cx="440.1" cy="271.5" r="0.45"/><circle cx="461.6" cy="251.7" r="0.45"/><circle cx="453.0" cy="267.3" r="0.45"/><circle cx="442.5" cy="272.9" r="0.45"/><circle cx="466.5" cy="280.8" r="0.45"/><circle cx="446.9" cy="267.7" r="0.45"/><circle cx="487.6" cy="249.5" r="0.45"/><circle cx="453.5" cy="277.5" r="0.45"/><circle cx="452.4" cy="274.2" r="0.45"/><circle cx="452.8" cy="275.6" r="0.45"/><circle cx="470.5" cy="261.9" r="0.45"/><circle cx="453.2" cy="264.2" r="0.45"/><circle cx="443.5" cy="264.7" r="0.45"/><circle cx="431.9" cy="275.4" r="0.45"/><circle cx="470.4" cy="251.5" r="0.45"/><circle cx="474.3" cy="255.0" r="0.45"/><circle cx="432.8" cy="276.8" r="0.45"/><circle cx="454.5" cy="262.9" r="0.45"/><circle cx="436.0" cy="270.9" r="0.45"/><circle cx="442.6" cy="279.6" r="0.45"/><circle cx="469.6" cy="245.7" r="0.45"/><circle cx="441.9" cy="260.5" r="0.45"/><circle cx="431.1" cy="249.3" r="0.45"/><circle cx="451.4" cy="262.1" r="0.45"/><circle cx="423.6" cy="257.5" r="0.45"/><circle cx="458.3" cy="248.1" r="0.45"/><circle cx="435.2" cy="287.2" r="0.45"/><circle cx="471.1" cy="242.3" r="0.45"/><circle cx="428.4" cy="270.3" r="0.45"/><circle cx="430.9" cy="261.5" r="0.45"/><circle cx="442.8" cy="272.8" r="0.45"/><circle cx="430.4" cy="279.2" r="0.45"/><circle cx="447.5" cy="241.1" r="0.45"/><circle cx="457.9" cy="274.9" r="0.45"/><circle cx="446.1" cy="260.4" r="0.45"/><circle cx="457.0" cy="281.9" r="0.45"/><circle cx="452.4" cy="272.5" r="0.45"/><circle cx="449.2" cy="259.7" r="0.45"/><circle cx="435.3" cy="268.6" r="0.45"/><circle cx="445.2" cy="261.6" r="0.45"/><circle cx="464.9" cy="271.8" r="0.45"/><circle cx="463.9" cy="242.9" r="0.45"/><circle cx="458.9" cy="256.7" r="0.45"/><circle cx="437.1" cy="253.1" r="0.45"/><circle cx="469.4" cy="276.6" r="0.45"/><circle cx="438.5" cy="249.1" r="0.45"/><circle cx="450.2" cy="258.6" r="0.45"/><circle cx="476.6" cy="244.5" r="0.45"/><circle cx="420.7" cy="261.4" r="0.45"/><circle cx="450.2" cy="266.9" r="0.45"/><circle cx="444.5" cy="257.4" r="0.45"/><circle cx="421.9" cy="268.4" r="0.45"/><circle cx="463.7" cy="261.4" r="0.45"/><circle cx="468.9" cy="265.4" r="0.45"/><circle cx="474.2" cy="269.7" r="0.45"/><circle cx="433.1" cy="256.1" r="0.45"/><circle cx="425.5" cy="240.7" r="0.45"/><circle cx="454.3" cy="277.2" r="0.45"/><circle cx="481.3" cy="264.2" r="0.45"/><circle cx="446.2" cy="249.5" r="0.45"/><circle cx="465.8" cy="270.4" r="0.45"/><circle cx="440.5" cy="274.6" r="0.45"/><circle cx="459.0" cy="238.8" r="0.45"/><circle cx="461.9" cy="266.9" r="0.45"/><circle cx="443.7" cy="259.2" r="0.45"/><circle cx="478.0" cy="286.5" r="0.45"/><circle cx="479.2" cy="248.9" r="0.45"/><circle cx="439.5" cy="277.7" r="0.45"/><circle cx="430.7" cy="254.9" r="0.45"/><circle cx="467.0" cy="271.4" r="0.45"/><circle cx="453.5" cy="259.2" r="0.45"/></g>
<ellipse cx="460" cy="257.5" rx="6.5" ry="6" fill="#000" fill-opacity="0.06" filter="url(#bl2)" transform="rotate(0,460,257.5)"/>
<ellipse cx="452" cy="281" rx="12" ry="5" fill="#000" fill-opacity="0.035" filter="url(#bl2)" transform="rotate(0,452,281)"/>
</g>
<line x1="441.60" y1="211.80" x2="441.60" y2="289.30" stroke="#b4b4b4" stroke-width="0.9"/>
<line x1="418.00" y1="270.40" x2="509.50" y2="270.40" stroke="#bdbdbd" stroke-width="0.9"/>
<rect x="418" y="211.8" width="91.5" height="77.5" fill="none" stroke="#333" stroke-width="1.4"/>
<text x="436" y="204.8" font-family="'Liberation Serif', serif" font-size="7.6" font-weight="bold" text-anchor="start" fill="#000" textLength="48" lengthAdjust="spacingAndGlyphs" stroke="#000" stroke-width="0.18" >GMCSF/IFNβ</text>
<text x="459.3" y="209.8" font-family="'Liberation Sans', sans-serif" font-size="3.2" font-weight="normal" text-anchor="middle" fill="#111" textLength="27" lengthAdjust="spacingAndGlyphs" >D20 .dff 106</text>
<text x="414.7" y="294.2" font-family="'Liberation Sans', sans-serif" font-size="4.3" font-weight="normal" text-anchor="start" fill="#333" textLength="4.6" lengthAdjust="spacingAndGlyphs" >10</text>
<text x="419.4" y="292.2" font-family="'Liberation Sans', sans-serif" font-size="3.0" font-weight="normal" text-anchor="start" fill="#333" >0</text>
<text x="437.57" y="294.2" font-family="'Liberation Sans', sans-serif" font-size="4.3" font-weight="normal" text-anchor="start" fill="#333" textLength="4.6" lengthAdjust="spacingAndGlyphs" >10</text>
<text x="442.27" y="292.2" font-family="'Liberation Sans', sans-serif" font-size="3.0" font-weight="normal" text-anchor="start" fill="#333" >1</text>
<text x="460.45" y="294.2" font-family="'Liberation Sans', sans-serif" font-size="4.3" font-weight="normal" text-anchor="start" fill="#333" textLength="4.6" lengthAdjust="spacingAndGlyphs" >10</text>
<text x="465.15" y="292.2" font-family="'Liberation Sans', sans-serif" font-size="3.0" font-weight="normal" text-anchor="start" fill="#333" >2</text>
<text x="483.32" y="294.2" font-family="'Liberation Sans', sans-serif" font-size="4.3" font-weight="normal" text-anchor="start" fill="#333" textLength="4.6" lengthAdjust="spacingAndGlyphs" >10</text>
<text x="488.02" y="292.2" font-family="'Liberation Sans', sans-serif" font-size="3.0" font-weight="normal" text-anchor="start" fill="#333" >3</text>
<text x="506.2" y="294.2" font-family="'Liberation Sans', sans-serif" font-size="4.3" font-weight="normal" text-anchor="start" fill="#333" textLength="4.6" lengthAdjust="spacingAndGlyphs" >10</text>
<text x="510.9" y="292.2" font-family="'Liberation Sans', sans-serif" font-size="3.0" font-weight="normal" text-anchor="start" fill="#333" >4</text>
<text x="457" y="298.2" font-family="'Liberation Sans', sans-serif" font-size="3.0" font-weight="normal" text-anchor="start" fill="#333" textLength="12.6" lengthAdjust="spacingAndGlyphs" >FL4-H</text>
<g transform="translate(415.4,292.1) rotate(-90)"><text x="0" y="0" font-family="'Liberation Sans', sans-serif" font-size="4.3" fill="#333" textLength="4.6" lengthAdjust="spacingAndGlyphs">10</text><text x="4.7" y="-2" font-family="'Liberation Sans', sans-serif" font-size="3.0" fill="#333">0</text></g>
<g transform="translate(415.4,272.725) rotate(-90)"><text x="0" y="0" font-family="'Liberation Sans', sans-serif" font-size="4.3" fill="#333" textLength="4.6" lengthAdjust="spacingAndGlyphs">10</text><text x="4.7" y="-2" font-family="'Liberation Sans', sans-serif" font-size="3.0" fill="#333">1</text></g>
<g transform="translate(415.4,253.35000000000002) rotate(-90)"><text x="0" y="0" font-family="'Liberation Sans', sans-serif" font-size="4.3" fill="#333" textLength="4.6" lengthAdjust="spacingAndGlyphs">10</text><text x="4.7" y="-2" font-family="'Liberation Sans', sans-serif" font-size="3.0" fill="#333">2</text></g>
<g transform="translate(415.4,233.97500000000002) rotate(-90)"><text x="0" y="0" font-family="'Liberation Sans', sans-serif" font-size="4.3" fill="#333" textLength="4.6" lengthAdjust="spacingAndGlyphs">10</text><text x="4.7" y="-2" font-family="'Liberation Sans', sans-serif" font-size="3.0" fill="#333">3</text></g>
<g transform="translate(415.4,214.60000000000002) rotate(-90)"><text x="0" y="0" font-family="'Liberation Sans', sans-serif" font-size="4.3" fill="#333" textLength="4.6" lengthAdjust="spacingAndGlyphs">10</text><text x="4.7" y="-2" font-family="'Liberation Sans', sans-serif" font-size="3.0" fill="#333">4</text></g>
<text x="112" y="226.7" font-family="'Liberation Serif', serif" font-size="12" font-weight="bold" text-anchor="start" fill="#000" textLength="22" lengthAdjust="spacingAndGlyphs" stroke="#000" stroke-width="0.18" >95%</text>
<text x="239" y="285.2" font-family="'Liberation Serif', serif" font-size="12" font-weight="bold" text-anchor="start" fill="#000" textLength="22.4" lengthAdjust="spacingAndGlyphs" stroke="#000" stroke-width="0.18" >95%</text>
<text x="356" y="227" font-family="'Liberation Serif', serif" font-size="12" font-weight="bold" text-anchor="start" fill="#000" textLength="23" lengthAdjust="spacingAndGlyphs" stroke="#000" stroke-width="0.18" >91%</text>
<text x="476" y="227.2" font-family="'Liberation Serif', serif" font-size="12" font-weight="bold" text-anchor="start" fill="#000" textLength="23" lengthAdjust="spacingAndGlyphs" stroke="#000" stroke-width="0.18" >36%</text>
<text x="475.6" y="285" font-family="'Liberation Serif', serif" font-size="12" font-weight="bold" text-anchor="start" fill="#000" textLength="22.8" lengthAdjust="spacingAndGlyphs" stroke="#000" stroke-width="0.18" >45%</text>
<line x1="34.60" y1="219.00" x2="34.60" y2="292.50" stroke="#000" stroke-width="1.3"/>
<polygon points="34.6,211.3 30.4,221.3 38.8,221.3" fill="#000"/>
<text x="0" y="0" font-family="'Liberation Serif', serif" font-size="10.3" font-weight="bold" text-anchor="start" fill="#000" textLength="52.8" lengthAdjust="spacingAndGlyphs" stroke="#000" stroke-width="0.18" transform="translate(29.9,281.2) rotate(-90)">CD14-FITC</text>
<line x1="51.00" y1="303.00" x2="502.00" y2="303.00" stroke="#000" stroke-width="1.4"/>
<polygon points="510.6,303.2 500.3,299 500.3,307.6" fill="#000"/>
<text x="252.8" y="314.4" font-family="'Liberation Serif', serif" font-size="10.3" font-weight="bold" text-anchor="start" fill="#000" textLength="54.4" lengthAdjust="spacingAndGlyphs" stroke="#000" stroke-width="0.18" >CD11c-APC</text>
</svg>
</body></html>
